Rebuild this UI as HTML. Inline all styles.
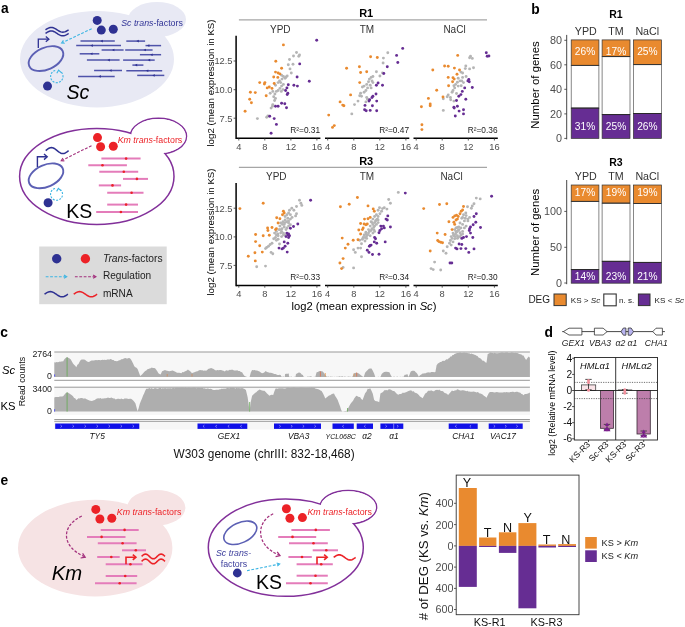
<!DOCTYPE html>
<html><head><meta charset="utf-8"><title>Figure</title>
<style>
html,body{margin:0;padding:0;background:#fff;width:685px;height:627px;overflow:hidden}
svg{display:block;will-change:transform}
text{font-family:"Liberation Sans",sans-serif}
</style></head>
<body>
<svg width="685" height="627" viewBox="0 0 685 627">
<text x="1.0" y="13.4" font-size="13.8" fill="#000" text-anchor="start" font-weight="bold" font-style="normal" >a</text>
<text x="531.2" y="13.6" font-size="13.8" fill="#000" text-anchor="start" font-weight="bold" font-style="normal" >b</text>
<text x="0.3" y="336.7" font-size="13.8" fill="#000" text-anchor="start" font-weight="bold" font-style="normal" >c</text>
<text x="544.4" y="336.8" font-size="13.8" fill="#000" text-anchor="start" font-weight="bold" font-style="normal" >d</text>
<text x="0.6" y="484.5" font-size="13.8" fill="#000" text-anchor="start" font-weight="bold" font-style="normal" >e</text>
<ellipse cx="157" cy="19.5" rx="29" ry="17.5" fill="#E8E9F4"/>
<ellipse cx="97" cy="59.2" rx="77" ry="48.3" fill="#E8E9F4"/>
<ellipse cx="46" cy="58.6" rx="18.3" ry="10.9" transform="rotate(-24 46 58.6)" fill="none" stroke="#5C60B4" stroke-width="1.9"/>
<polyline points="38.3,48 38.3,39.2 48.5,39.2" fill="none" stroke="#2E3192" stroke-width="1.3"/>
<polyline points="45.8,36.6 48.9,39.2 45.8,41.8" fill="none" stroke="#2E3192" stroke-width="1.3"/>
<polyline points="45.50,29.80 46.46,29.18 47.42,28.60 48.39,28.10 49.35,27.72 50.31,27.48 51.27,27.40 52.24,27.48 53.20,27.72 54.16,28.10 55.12,28.60 56.09,29.18 57.05,29.80 58.01,30.42 58.97,31.00 59.94,31.50 60.90,31.88 61.86,32.12 62.82,32.20 63.79,32.12 64.75,31.88 65.71,31.50 66.67,31.00 67.64,30.42 68.60,29.80" fill="none" stroke="#2E3192" stroke-width="1.5"/>
<polyline points="45.50,33.40 46.46,32.78 47.42,32.20 48.39,31.70 49.35,31.32 50.31,31.08 51.27,31.00 52.24,31.08 53.20,31.32 54.16,31.70 55.12,32.20 56.09,32.78 57.05,33.40 58.01,34.02 58.97,34.60 59.94,35.10 60.90,35.48 61.86,35.72 62.82,35.80 63.79,35.72 64.75,35.48 65.71,35.10 66.67,34.60 67.64,34.02 68.60,33.40" fill="none" stroke="#2E3192" stroke-width="1.5"/>
<line x1="91.7" y1="28.7" x2="62.50" y2="42.57" stroke="#3DB5E3" stroke-width="1.1" stroke-dasharray="2.8,1.6"/>
<polyline points="63.42,40.37 61.6,43.0 64.79,43.26" fill="none" stroke="#3DB5E3" stroke-width="1.1"/>
<path d="M55.2,70.5 A6.2,6.2 0 1 0 60.5,71.5" fill="none" stroke="#3DB5E3" stroke-width="1.1" stroke-dasharray="2,1.3"/>
<polyline points="56.8,73.2 58.6,70.2 61.3,72.6" fill="none" stroke="#3DB5E3" stroke-width="1.1"/>
<circle cx="47.5" cy="86.1" r="4.5" fill="#2E3192"/>
<circle cx="97.2" cy="20.4" r="4.5" fill="#2E3192"/>
<circle cx="101.3" cy="30.1" r="4.5" fill="#2E3192"/>
<circle cx="113.3" cy="29.2" r="4.5" fill="#2E3192"/>
<text x="121.2" y="26.4" font-size="8.8" fill="#303396" text-anchor="start" font-weight="normal" font-style="normal" ><tspan font-style="italic">Sc trans</tspan>-factors</text>
<text x="66.5" y="99.2" font-size="19.5" fill="#000" text-anchor="start" font-weight="normal" font-style="italic" >Sc</text>
<line x1="80.5" y1="41.1" x2="114.8" y2="41.1" stroke="#4F53AA" stroke-width="1.5"/>
<path d="M100.4,41.1 L102.8,39.800000000000004 L102.8,42.4 Z" fill="#2E3192"/>
<line x1="126.3" y1="41.1" x2="145.1" y2="41.1" stroke="#4F53AA" stroke-width="1.5"/>
<path d="M136.4,41.1 L138.8,39.800000000000004 L138.8,42.4 Z" fill="#2E3192"/>
<line x1="76.2" y1="45.6" x2="121.0" y2="45.6" stroke="#4F53AA" stroke-width="1.5"/>
<path d="M90.4,45.6 L92.8,44.300000000000004 L92.8,46.9 Z" fill="#2E3192"/>
<line x1="145.5" y1="45.6" x2="161.1" y2="45.6" stroke="#4F53AA" stroke-width="1.5"/>
<path d="M147.0,45.6 L149.4,44.300000000000004 L149.4,46.9 Z" fill="#2E3192"/>
<line x1="101.6" y1="50.0" x2="123.6" y2="50.0" stroke="#4F53AA" stroke-width="1.5"/>
<path d="M112.0,50.0 L114.39999999999999,48.7 L114.39999999999999,51.3 Z" fill="#2E3192"/>
<line x1="125.2" y1="50.0" x2="152.6" y2="50.0" stroke="#4F53AA" stroke-width="1.5"/>
<path d="M143.5,50.0 L145.9,48.7 L145.9,51.3 Z" fill="#2E3192"/>
<line x1="79.7" y1="53.8" x2="99.3" y2="53.8" stroke="#4F53AA" stroke-width="1.5"/>
<path d="M90.10000000000001,53.8 L92.5,52.5 L92.5,55.099999999999994 Z" fill="#2E3192"/>
<line x1="139.9" y1="54.7" x2="161.1" y2="54.7" stroke="#4F53AA" stroke-width="1.5"/>
<path d="M150.20000000000002,54.7 L152.60000000000002,53.400000000000006 L152.60000000000002,56.0 Z" fill="#2E3192"/>
<line x1="86.9" y1="60.1" x2="119.6" y2="60.1" stroke="#4F53AA" stroke-width="1.5"/>
<path d="M107.4,60.1 L109.8,58.800000000000004 L109.8,61.4 Z" fill="#2E3192"/>
<line x1="123.1" y1="60.1" x2="154.7" y2="60.1" stroke="#4F53AA" stroke-width="1.5"/>
<path d="M147.8,60.1 L150.20000000000002,58.800000000000004 L150.20000000000002,61.4 Z" fill="#2E3192"/>
<line x1="132.4" y1="65.1" x2="143.4" y2="65.1" stroke="#4F53AA" stroke-width="1.5"/>
<path d="M134.8,65.1 L137.20000000000002,63.8 L137.20000000000002,66.39999999999999 Z" fill="#2E3192"/>
<line x1="94.1" y1="70.5" x2="122.0" y2="70.5" stroke="#4F53AA" stroke-width="1.5"/>
<path d="M109.2,70.5 L111.6,69.2 L111.6,71.8 Z" fill="#2E3192"/>
<line x1="126.3" y1="70.7" x2="162.2" y2="70.7" stroke="#4F53AA" stroke-width="1.5"/>
<path d="M145.9,70.7 L148.3,69.4 L148.3,72.0 Z" fill="#2E3192"/>
<line x1="78.1" y1="76.4" x2="114.7" y2="76.4" stroke="#4F53AA" stroke-width="1.5"/>
<path d="M98.4,76.4 L100.8,75.10000000000001 L100.8,77.7 Z" fill="#2E3192"/>
<line x1="137.2" y1="75.4" x2="164.3" y2="75.4" stroke="#4F53AA" stroke-width="1.5"/>
<path d="M152.3,75.4 L154.70000000000002,74.10000000000001 L154.70000000000002,76.7 Z" fill="#2E3192"/>
<ellipse cx="158.4" cy="136.2" rx="28.1" ry="17.9" fill="#fff" stroke="#82309A" stroke-width="1.5"/>
<ellipse cx="96.8" cy="176.4" rx="77.2" ry="48" fill="#fff" stroke="#82309A" stroke-width="1.5"/>
<ellipse cx="158.4" cy="136.2" rx="27.35" ry="17.15" fill="#fff"/>
<ellipse cx="46" cy="175.8" rx="18.3" ry="10.9" transform="rotate(-24 46 175.8)" fill="none" stroke="#5C60B4" stroke-width="1.9"/>
<polyline points="37.4,167 37.4,156.8 46.8,156.8" fill="none" stroke="#2E3192" stroke-width="1.4"/>
<polyline points="44.0,154.0 47.2,156.8 44.0,159.6" fill="none" stroke="#2E3192" stroke-width="1.4"/>
<polyline points="45.70,150.60 46.65,149.82 47.61,149.10 48.56,148.48 49.52,148.00 50.47,147.70 51.42,147.60 52.38,147.70 53.33,148.00 54.29,148.48 55.24,149.10 56.20,149.82 57.15,150.60 58.10,151.38 59.06,152.10 60.01,152.72 60.97,153.20 61.92,153.50 62.88,153.60 63.83,153.50 64.78,153.20 65.74,152.72 66.69,152.10 67.65,151.38 68.60,150.60" fill="none" stroke="#2E3192" stroke-width="1.5"/>
<line x1="91.5" y1="145.7" x2="62.10" y2="160.26" stroke="#A3317D" stroke-width="1.1" stroke-dasharray="2.8,1.6"/>
<polyline points="62.97,158.04 61.2,160.7 64.39,160.90" fill="none" stroke="#A3317D" stroke-width="1.1"/>
<path d="M55.0,188.5 A6.0,6.0 0 1 0 60.3,189.6" fill="none" stroke="#3DB5E3" stroke-width="1.1" stroke-dasharray="2,1.3"/>
<polyline points="56.6,191.4 58.4,188.4 61.1,190.8" fill="none" stroke="#3DB5E3" stroke-width="1.1"/>
<circle cx="48.1" cy="202.8" r="4.5" fill="#2E3192"/>
<circle cx="97.5" cy="137.6" r="4.5" fill="#EC2227"/>
<circle cx="100.6" cy="146.8" r="4.5" fill="#EC2227"/>
<circle cx="113.3" cy="146.3" r="4.5" fill="#EC2227"/>
<text x="117.7" y="143.3" font-size="8.8" fill="#EC2227" text-anchor="start" font-weight="normal" font-style="normal" ><tspan font-style="italic">Km trans</tspan>-factors</text>
<text x="66.3" y="217.5" font-size="19.5" fill="#000" text-anchor="start" font-weight="normal" font-style="normal" >KS</text>
<line x1="101.4" y1="158.6" x2="140.6" y2="158.6" stroke="#E47CBA" stroke-width="2.0"/>
<circle cx="126.1" cy="158.6" r="1.3" fill="#EC2227"/>
<line x1="88.3" y1="165.2" x2="126.9" y2="165.2" stroke="#E47CBA" stroke-width="2.0"/>
<circle cx="102.5" cy="165.2" r="1.3" fill="#EC2227"/>
<line x1="99.3" y1="171.8" x2="138.2" y2="171.8" stroke="#E47CBA" stroke-width="2.0"/>
<circle cx="123.8" cy="171.8" r="1.3" fill="#EC2227"/>
<line x1="123.0" y1="178.9" x2="148.0" y2="178.9" stroke="#E47CBA" stroke-width="2.0"/>
<circle cx="136.9" cy="178.9" r="1.3" fill="#EC2227"/>
<line x1="98.8" y1="185.4" x2="121.1" y2="185.4" stroke="#E47CBA" stroke-width="2.0"/>
<circle cx="112.5" cy="185.4" r="1.3" fill="#EC2227"/>
<line x1="107.2" y1="192.8" x2="143.5" y2="192.8" stroke="#E47CBA" stroke-width="2.0"/>
<circle cx="131.6" cy="192.8" r="1.3" fill="#EC2227"/>
<line x1="107.2" y1="204.6" x2="138.0" y2="204.6" stroke="#E47CBA" stroke-width="2.0"/>
<circle cx="126.1" cy="204.6" r="1.3" fill="#EC2227"/>
<line x1="96.2" y1="212.0" x2="138.0" y2="212.0" stroke="#E47CBA" stroke-width="2.0"/>
<circle cx="120.9" cy="212.0" r="1.3" fill="#EC2227"/>
<rect x="39.2" y="246.5" width="127.5" height="57.7" fill="#DBDBDB"/>
<circle cx="56.7" cy="258.7" r="4.7" fill="#2E3192"/>
<circle cx="85.4" cy="258.7" r="4.7" fill="#EC2227"/>
<text x="102.9" y="262.2" font-size="10.25" fill="#222" text-anchor="start" font-weight="normal" font-style="normal" ><tspan font-style="italic">Trans</tspan>-factors</text>
<line x1="45.7" y1="276.7" x2="65.70" y2="276.70" stroke="#3DB5E3" stroke-width="1.1" stroke-dasharray="2.8,1.6"/>
<polyline points="63.93,278.30 66.7,276.7 63.93,275.10" fill="none" stroke="#3DB5E3" stroke-width="1.1"/>
<line x1="74.9" y1="276.7" x2="94.90" y2="276.70" stroke="#A3317D" stroke-width="1.1" stroke-dasharray="2.8,1.6"/>
<polyline points="93.13,278.30 95.9,276.7 93.13,275.10" fill="none" stroke="#A3317D" stroke-width="1.1"/>
<text x="102.9" y="279.4" font-size="10.1" fill="#222" text-anchor="start" font-weight="normal" font-style="normal" >Regulation</text>
<polyline points="44.50,294.20 45.48,293.53 46.45,292.90 47.42,292.36 48.40,291.95 49.38,291.69 50.35,291.60 51.33,291.69 52.30,291.95 53.28,292.36 54.25,292.90 55.23,293.53 56.20,294.20 57.18,294.87 58.15,295.50 59.12,296.04 60.10,296.45 61.08,296.71 62.05,296.80 63.03,296.71 64.00,296.45 64.98,296.04 65.95,295.50 66.93,294.87 67.90,294.20" fill="none" stroke="#2E3192" stroke-width="1.5"/>
<polyline points="73.70,294.20 74.67,293.53 75.65,292.90 76.62,292.36 77.60,291.95 78.58,291.69 79.55,291.60 80.53,291.69 81.50,291.95 82.47,292.36 83.45,292.90 84.42,293.53 85.40,294.20 86.38,294.87 87.35,295.50 88.33,296.04 89.30,296.45 90.28,296.71 91.25,296.80 92.22,296.71 93.20,296.45 94.17,296.04 95.15,295.50 96.12,294.87 97.10,294.20" fill="none" stroke="#EC2227" stroke-width="1.5"/>
<text x="102.9" y="297.4" font-size="10.1" fill="#222" text-anchor="start" font-weight="normal" font-style="normal" >mRNA</text>
<circle cx="296.5" cy="52.5" r="1.45" fill="#B5B5B5"/>
<circle cx="293.5" cy="56.0" r="1.45" fill="#B5B5B5"/>
<circle cx="298.8" cy="56.3" r="1.45" fill="#B5B5B5"/>
<circle cx="299.5" cy="54.9" r="1.45" fill="#B5B5B5"/>
<circle cx="289.5" cy="59.5" r="1.45" fill="#B5B5B5"/>
<circle cx="293.0" cy="64.2" r="1.45" fill="#B5B5B5"/>
<circle cx="288.3" cy="64.7" r="1.45" fill="#B5B5B5"/>
<circle cx="290.0" cy="68.9" r="1.45" fill="#B5B5B5"/>
<circle cx="291.3" cy="73.0" r="1.45" fill="#B5B5B5"/>
<circle cx="281.6" cy="75.3" r="1.45" fill="#B5B5B5"/>
<circle cx="283.4" cy="76.5" r="1.45" fill="#B5B5B5"/>
<circle cx="286.0" cy="77.0" r="1.45" fill="#B5B5B5"/>
<circle cx="287.2" cy="76.0" r="1.45" fill="#B5B5B5"/>
<circle cx="285.1" cy="78.2" r="1.45" fill="#B5B5B5"/>
<circle cx="282.0" cy="79.1" r="1.45" fill="#B5B5B5"/>
<circle cx="279.5" cy="80.9" r="1.45" fill="#B5B5B5"/>
<circle cx="278.1" cy="82.6" r="1.45" fill="#B5B5B5"/>
<circle cx="280.7" cy="82.6" r="1.45" fill="#B5B5B5"/>
<circle cx="283.4" cy="84.4" r="1.45" fill="#B5B5B5"/>
<circle cx="275.5" cy="85.3" r="1.45" fill="#B5B5B5"/>
<circle cx="281.6" cy="86.1" r="1.45" fill="#B5B5B5"/>
<circle cx="279.9" cy="88.4" r="1.45" fill="#B5B5B5"/>
<circle cx="283.0" cy="89.6" r="1.45" fill="#B5B5B5"/>
<circle cx="278.1" cy="90.5" r="1.45" fill="#B5B5B5"/>
<circle cx="281.3" cy="91.4" r="1.45" fill="#B5B5B5"/>
<circle cx="276.4" cy="91.4" r="1.45" fill="#B5B5B5"/>
<circle cx="272.8" cy="91.4" r="1.45" fill="#B5B5B5"/>
<circle cx="270.2" cy="93.2" r="1.45" fill="#B5B5B5"/>
<circle cx="274.9" cy="94.0" r="1.45" fill="#B5B5B5"/>
<circle cx="273.7" cy="96.7" r="1.45" fill="#B5B5B5"/>
<circle cx="275.5" cy="98.4" r="1.45" fill="#B5B5B5"/>
<circle cx="274.6" cy="100.5" r="1.45" fill="#B5B5B5"/>
<circle cx="272.8" cy="104.6" r="1.45" fill="#B5B5B5"/>
<circle cx="272.5" cy="106.3" r="1.45" fill="#B5B5B5"/>
<circle cx="271.1" cy="108.1" r="1.45" fill="#B5B5B5"/>
<circle cx="266.7" cy="117.2" r="1.45" fill="#B5B5B5"/>
<circle cx="267.9" cy="116.0" r="1.45" fill="#B5B5B5"/>
<circle cx="257.4" cy="118.6" r="1.45" fill="#B5B5B5"/>
<circle cx="283.4" cy="44.9" r="1.45" fill="#E98A2F"/>
<circle cx="275.8" cy="61.2" r="1.45" fill="#E98A2F"/>
<circle cx="281.6" cy="68.2" r="1.45" fill="#E98A2F"/>
<circle cx="275.5" cy="72.1" r="1.45" fill="#E98A2F"/>
<circle cx="278.1" cy="73.0" r="1.45" fill="#E98A2F"/>
<circle cx="279.9" cy="73.9" r="1.45" fill="#E98A2F"/>
<circle cx="273.7" cy="77.0" r="1.45" fill="#E98A2F"/>
<circle cx="277.8" cy="77.4" r="1.45" fill="#E98A2F"/>
<circle cx="259.7" cy="82.6" r="1.45" fill="#E98A2F"/>
<circle cx="264.9" cy="82.6" r="1.45" fill="#E98A2F"/>
<circle cx="264.4" cy="84.0" r="1.45" fill="#E98A2F"/>
<circle cx="274.2" cy="83.5" r="1.45" fill="#E98A2F"/>
<circle cx="269.3" cy="87.0" r="1.45" fill="#E98A2F"/>
<circle cx="267.2" cy="87.9" r="1.45" fill="#E98A2F"/>
<circle cx="272.0" cy="88.4" r="1.45" fill="#E98A2F"/>
<circle cx="250.4" cy="92.3" r="1.45" fill="#E98A2F"/>
<circle cx="255.3" cy="92.6" r="1.45" fill="#E98A2F"/>
<circle cx="266.2" cy="95.8" r="1.45" fill="#E98A2F"/>
<circle cx="249.7" cy="99.3" r="1.45" fill="#E98A2F"/>
<circle cx="251.4" cy="102.8" r="1.45" fill="#E98A2F"/>
<circle cx="245.1" cy="111.2" r="1.45" fill="#E98A2F"/>
<circle cx="316.7" cy="40.2" r="1.45" fill="#662D93"/>
<circle cx="299.7" cy="63.9" r="1.45" fill="#662D93"/>
<circle cx="297.1" cy="77.0" r="1.45" fill="#662D93"/>
<circle cx="309.3" cy="81.2" r="1.45" fill="#662D93"/>
<circle cx="293.9" cy="85.3" r="1.45" fill="#662D93"/>
<circle cx="297.4" cy="86.1" r="1.45" fill="#662D93"/>
<circle cx="288.3" cy="84.7" r="1.45" fill="#662D93"/>
<circle cx="286.9" cy="87.9" r="1.45" fill="#662D93"/>
<circle cx="285.6" cy="90.5" r="1.45" fill="#662D93"/>
<circle cx="287.8" cy="93.2" r="1.45" fill="#662D93"/>
<circle cx="287.2" cy="94.6" r="1.45" fill="#662D93"/>
<circle cx="281.6" cy="103.3" r="1.45" fill="#662D93"/>
<circle cx="284.8" cy="103.7" r="1.45" fill="#662D93"/>
<circle cx="286.5" cy="107.7" r="1.45" fill="#662D93"/>
<circle cx="275.5" cy="106.3" r="1.45" fill="#662D93"/>
<circle cx="278.1" cy="106.3" r="1.45" fill="#662D93"/>
<circle cx="269.7" cy="116.3" r="1.45" fill="#662D93"/>
<circle cx="274.2" cy="118.6" r="1.45" fill="#662D93"/>
<circle cx="276.4" cy="124.4" r="1.45" fill="#662D93"/>
<circle cx="271.1" cy="133.2" r="1.45" fill="#662D93"/>
<circle cx="387.8" cy="52.8" r="1.45" fill="#B5B5B5"/>
<circle cx="383.4" cy="58.1" r="1.45" fill="#B5B5B5"/>
<circle cx="383.1" cy="63.0" r="1.45" fill="#B5B5B5"/>
<circle cx="376.4" cy="71.8" r="1.45" fill="#B5B5B5"/>
<circle cx="379.9" cy="76.0" r="1.45" fill="#B5B5B5"/>
<circle cx="382.5" cy="73.0" r="1.45" fill="#B5B5B5"/>
<circle cx="372.9" cy="76.5" r="1.45" fill="#B5B5B5"/>
<circle cx="371.1" cy="77.4" r="1.45" fill="#B5B5B5"/>
<circle cx="369.4" cy="79.1" r="1.45" fill="#B5B5B5"/>
<circle cx="372.0" cy="80.9" r="1.45" fill="#B5B5B5"/>
<circle cx="368.5" cy="81.8" r="1.45" fill="#B5B5B5"/>
<circle cx="372.9" cy="82.6" r="1.45" fill="#B5B5B5"/>
<circle cx="366.7" cy="84.4" r="1.45" fill="#B5B5B5"/>
<circle cx="370.2" cy="85.3" r="1.45" fill="#B5B5B5"/>
<circle cx="364.1" cy="86.1" r="1.45" fill="#B5B5B5"/>
<circle cx="362.4" cy="87.0" r="1.45" fill="#B5B5B5"/>
<circle cx="367.6" cy="87.9" r="1.45" fill="#B5B5B5"/>
<circle cx="371.1" cy="87.9" r="1.45" fill="#B5B5B5"/>
<circle cx="365.9" cy="90.5" r="1.45" fill="#B5B5B5"/>
<circle cx="364.1" cy="92.3" r="1.45" fill="#B5B5B5"/>
<circle cx="360.6" cy="93.2" r="1.45" fill="#B5B5B5"/>
<circle cx="359.7" cy="95.8" r="1.45" fill="#B5B5B5"/>
<circle cx="361.5" cy="96.3" r="1.45" fill="#B5B5B5"/>
<circle cx="366.7" cy="97.5" r="1.45" fill="#B5B5B5"/>
<circle cx="367.6" cy="99.3" r="1.45" fill="#B5B5B5"/>
<circle cx="365.9" cy="101.9" r="1.45" fill="#B5B5B5"/>
<circle cx="358.0" cy="101.1" r="1.45" fill="#B5B5B5"/>
<circle cx="354.5" cy="104.6" r="1.45" fill="#B5B5B5"/>
<circle cx="351.8" cy="113.9" r="1.45" fill="#B5B5B5"/>
<circle cx="370.6" cy="56.7" r="1.45" fill="#E98A2F"/>
<circle cx="377.3" cy="57.5" r="1.45" fill="#E98A2F"/>
<circle cx="346.6" cy="68.2" r="1.45" fill="#E98A2F"/>
<circle cx="359.4" cy="66.8" r="1.45" fill="#E98A2F"/>
<circle cx="360.6" cy="72.5" r="1.45" fill="#E98A2F"/>
<circle cx="366.7" cy="71.8" r="1.45" fill="#E98A2F"/>
<circle cx="359.7" cy="82.6" r="1.45" fill="#E98A2F"/>
<circle cx="350.6" cy="94.9" r="1.45" fill="#E98A2F"/>
<circle cx="340.1" cy="101.9" r="1.45" fill="#E98A2F"/>
<circle cx="342.7" cy="105.1" r="1.45" fill="#E98A2F"/>
<circle cx="343.9" cy="105.8" r="1.45" fill="#E98A2F"/>
<circle cx="328.7" cy="115.1" r="1.45" fill="#E98A2F"/>
<circle cx="334.3" cy="125.6" r="1.45" fill="#E98A2F"/>
<circle cx="332.5" cy="127.4" r="1.45" fill="#E98A2F"/>
<circle cx="402.7" cy="48.4" r="1.45" fill="#662D93"/>
<circle cx="396.6" cy="55.4" r="1.45" fill="#662D93"/>
<circle cx="397.8" cy="62.5" r="1.45" fill="#662D93"/>
<circle cx="387.3" cy="66.8" r="1.45" fill="#662D93"/>
<circle cx="383.8" cy="73.5" r="1.45" fill="#662D93"/>
<circle cx="378.1" cy="83.0" r="1.45" fill="#662D93"/>
<circle cx="376.4" cy="85.3" r="1.45" fill="#662D93"/>
<circle cx="382.5" cy="85.3" r="1.45" fill="#662D93"/>
<circle cx="376.0" cy="94.0" r="1.45" fill="#662D93"/>
<circle cx="372.9" cy="96.3" r="1.45" fill="#662D93"/>
<circle cx="372.0" cy="97.5" r="1.45" fill="#662D93"/>
<circle cx="369.7" cy="99.8" r="1.45" fill="#662D93"/>
<circle cx="369.0" cy="101.1" r="1.45" fill="#662D93"/>
<circle cx="376.7" cy="101.1" r="1.45" fill="#662D93"/>
<circle cx="365.0" cy="105.4" r="1.45" fill="#662D93"/>
<circle cx="372.4" cy="105.8" r="1.45" fill="#662D93"/>
<circle cx="364.6" cy="109.8" r="1.45" fill="#662D93"/>
<circle cx="366.2" cy="110.7" r="1.45" fill="#662D93"/>
<circle cx="370.2" cy="110.4" r="1.45" fill="#662D93"/>
<circle cx="376.7" cy="110.7" r="1.45" fill="#662D93"/>
<circle cx="470.5" cy="56.3" r="1.45" fill="#B5B5B5"/>
<circle cx="472.3" cy="58.4" r="1.45" fill="#B5B5B5"/>
<circle cx="469.6" cy="57.7" r="1.45" fill="#B5B5B5"/>
<circle cx="465.8" cy="66.0" r="1.45" fill="#B5B5B5"/>
<circle cx="465.3" cy="68.6" r="1.45" fill="#B5B5B5"/>
<circle cx="473.5" cy="67.7" r="1.45" fill="#B5B5B5"/>
<circle cx="469.6" cy="68.9" r="1.45" fill="#B5B5B5"/>
<circle cx="460.9" cy="72.1" r="1.45" fill="#B5B5B5"/>
<circle cx="462.6" cy="73.0" r="1.45" fill="#B5B5B5"/>
<circle cx="458.2" cy="78.2" r="1.45" fill="#B5B5B5"/>
<circle cx="462.6" cy="77.4" r="1.45" fill="#B5B5B5"/>
<circle cx="466.1" cy="76.5" r="1.45" fill="#B5B5B5"/>
<circle cx="460.0" cy="80.9" r="1.45" fill="#B5B5B5"/>
<circle cx="461.8" cy="80.9" r="1.45" fill="#B5B5B5"/>
<circle cx="463.5" cy="82.6" r="1.45" fill="#B5B5B5"/>
<circle cx="457.4" cy="82.3" r="1.45" fill="#B5B5B5"/>
<circle cx="455.6" cy="84.4" r="1.45" fill="#B5B5B5"/>
<circle cx="453.9" cy="85.8" r="1.45" fill="#B5B5B5"/>
<circle cx="458.2" cy="86.1" r="1.45" fill="#B5B5B5"/>
<circle cx="461.2" cy="85.8" r="1.45" fill="#B5B5B5"/>
<circle cx="454.7" cy="87.9" r="1.45" fill="#B5B5B5"/>
<circle cx="453.0" cy="90.5" r="1.45" fill="#B5B5B5"/>
<circle cx="452.1" cy="92.3" r="1.45" fill="#B5B5B5"/>
<circle cx="456.5" cy="93.5" r="1.45" fill="#B5B5B5"/>
<circle cx="448.2" cy="94.9" r="1.45" fill="#B5B5B5"/>
<circle cx="447.2" cy="96.7" r="1.45" fill="#B5B5B5"/>
<circle cx="450.4" cy="97.5" r="1.45" fill="#B5B5B5"/>
<circle cx="443.3" cy="98.8" r="1.45" fill="#B5B5B5"/>
<circle cx="450.7" cy="99.8" r="1.45" fill="#B5B5B5"/>
<circle cx="453.9" cy="101.1" r="1.45" fill="#B5B5B5"/>
<circle cx="443.3" cy="110.4" r="1.45" fill="#B5B5B5"/>
<circle cx="457.7" cy="55.4" r="1.45" fill="#E98A2F"/>
<circle cx="444.6" cy="66.0" r="1.45" fill="#E98A2F"/>
<circle cx="448.2" cy="66.3" r="1.45" fill="#E98A2F"/>
<circle cx="432.8" cy="70.0" r="1.45" fill="#E98A2F"/>
<circle cx="454.4" cy="68.1" r="1.45" fill="#E98A2F"/>
<circle cx="459.5" cy="70.0" r="1.45" fill="#E98A2F"/>
<circle cx="457.0" cy="74.2" r="1.45" fill="#E98A2F"/>
<circle cx="448.2" cy="77.4" r="1.45" fill="#E98A2F"/>
<circle cx="453.0" cy="77.7" r="1.45" fill="#E98A2F"/>
<circle cx="454.2" cy="79.1" r="1.45" fill="#E98A2F"/>
<circle cx="452.6" cy="81.8" r="1.45" fill="#E98A2F"/>
<circle cx="448.6" cy="85.8" r="1.45" fill="#E98A2F"/>
<circle cx="436.7" cy="90.2" r="1.45" fill="#E98A2F"/>
<circle cx="443.0" cy="97.0" r="1.45" fill="#E98A2F"/>
<circle cx="428.4" cy="98.4" r="1.45" fill="#E98A2F"/>
<circle cx="430.2" cy="104.0" r="1.45" fill="#E98A2F"/>
<circle cx="430.2" cy="105.8" r="1.45" fill="#E98A2F"/>
<circle cx="421.4" cy="106.8" r="1.45" fill="#E98A2F"/>
<circle cx="421.9" cy="124.7" r="1.45" fill="#E98A2F"/>
<circle cx="421.9" cy="129.6" r="1.45" fill="#E98A2F"/>
<circle cx="486.3" cy="52.8" r="1.45" fill="#662D93"/>
<circle cx="487.2" cy="56.3" r="1.45" fill="#662D93"/>
<circle cx="488.9" cy="56.0" r="1.45" fill="#662D93"/>
<circle cx="468.8" cy="79.5" r="1.45" fill="#662D93"/>
<circle cx="467.9" cy="80.9" r="1.45" fill="#662D93"/>
<circle cx="469.3" cy="81.8" r="1.45" fill="#662D93"/>
<circle cx="464.7" cy="87.9" r="1.45" fill="#662D93"/>
<circle cx="472.3" cy="87.5" r="1.45" fill="#662D93"/>
<circle cx="462.3" cy="91.4" r="1.45" fill="#662D93"/>
<circle cx="460.9" cy="94.6" r="1.45" fill="#662D93"/>
<circle cx="458.8" cy="96.3" r="1.45" fill="#662D93"/>
<circle cx="465.8" cy="99.3" r="1.45" fill="#662D93"/>
<circle cx="456.5" cy="100.5" r="1.45" fill="#662D93"/>
<circle cx="457.4" cy="106.3" r="1.45" fill="#662D93"/>
<circle cx="453.9" cy="107.2" r="1.45" fill="#662D93"/>
<circle cx="454.2" cy="108.1" r="1.45" fill="#662D93"/>
<circle cx="459.1" cy="111.1" r="1.45" fill="#662D93"/>
<circle cx="463.5" cy="109.8" r="1.45" fill="#662D93"/>
<circle cx="463.5" cy="113.9" r="1.45" fill="#662D93"/>
<circle cx="455.3" cy="116.0" r="1.45" fill="#662D93"/>
<circle cx="285.1" cy="222.6" r="1.45" fill="#B5B5B5"/>
<circle cx="288.6" cy="220.9" r="1.45" fill="#B5B5B5"/>
<circle cx="292.1" cy="217.4" r="1.45" fill="#B5B5B5"/>
<circle cx="286.0" cy="229.6" r="1.45" fill="#B5B5B5"/>
<circle cx="281.6" cy="231.4" r="1.45" fill="#B5B5B5"/>
<circle cx="279.9" cy="229.6" r="1.45" fill="#B5B5B5"/>
<circle cx="283.4" cy="234.9" r="1.45" fill="#B5B5B5"/>
<circle cx="278.1" cy="239.3" r="1.45" fill="#B5B5B5"/>
<circle cx="276.4" cy="234.9" r="1.45" fill="#B5B5B5"/>
<circle cx="288.6" cy="226.1" r="1.45" fill="#B5B5B5"/>
<circle cx="290.4" cy="214.7" r="1.45" fill="#B5B5B5"/>
<circle cx="293.9" cy="210.3" r="1.45" fill="#B5B5B5"/>
<circle cx="299.5" cy="200.3" r="1.45" fill="#B5B5B5"/>
<circle cx="300.9" cy="203.3" r="1.45" fill="#B5B5B5"/>
<circle cx="301.8" cy="205.4" r="1.45" fill="#B5B5B5"/>
<circle cx="296.5" cy="206.5" r="1.45" fill="#B5B5B5"/>
<circle cx="291.8" cy="208.2" r="1.45" fill="#B5B5B5"/>
<circle cx="289.5" cy="210.3" r="1.45" fill="#B5B5B5"/>
<circle cx="296.5" cy="213.8" r="1.45" fill="#B5B5B5"/>
<circle cx="295.6" cy="215.9" r="1.45" fill="#B5B5B5"/>
<circle cx="288.6" cy="213.0" r="1.45" fill="#B5B5B5"/>
<circle cx="286.9" cy="214.7" r="1.45" fill="#B5B5B5"/>
<circle cx="285.1" cy="216.5" r="1.45" fill="#B5B5B5"/>
<circle cx="287.8" cy="218.2" r="1.45" fill="#B5B5B5"/>
<circle cx="290.4" cy="219.1" r="1.45" fill="#B5B5B5"/>
<circle cx="285.1" cy="220.0" r="1.45" fill="#B5B5B5"/>
<circle cx="283.0" cy="221.7" r="1.45" fill="#B5B5B5"/>
<circle cx="286.9" cy="221.7" r="1.45" fill="#B5B5B5"/>
<circle cx="280.7" cy="223.0" r="1.45" fill="#B5B5B5"/>
<circle cx="282.5" cy="224.4" r="1.45" fill="#B5B5B5"/>
<circle cx="284.2" cy="224.4" r="1.45" fill="#B5B5B5"/>
<circle cx="288.6" cy="223.0" r="1.45" fill="#B5B5B5"/>
<circle cx="290.4" cy="224.7" r="1.45" fill="#B5B5B5"/>
<circle cx="279.9" cy="226.1" r="1.45" fill="#B5B5B5"/>
<circle cx="284.2" cy="227.0" r="1.45" fill="#B5B5B5"/>
<circle cx="286.9" cy="227.9" r="1.45" fill="#B5B5B5"/>
<circle cx="282.0" cy="228.8" r="1.45" fill="#B5B5B5"/>
<circle cx="279.0" cy="229.6" r="1.45" fill="#B5B5B5"/>
<circle cx="276.4" cy="231.4" r="1.45" fill="#B5B5B5"/>
<circle cx="274.6" cy="233.1" r="1.45" fill="#B5B5B5"/>
<circle cx="277.8" cy="234.0" r="1.45" fill="#B5B5B5"/>
<circle cx="280.7" cy="233.1" r="1.45" fill="#B5B5B5"/>
<circle cx="283.4" cy="233.1" r="1.45" fill="#B5B5B5"/>
<circle cx="285.1" cy="234.9" r="1.45" fill="#B5B5B5"/>
<circle cx="281.6" cy="236.6" r="1.45" fill="#B5B5B5"/>
<circle cx="278.1" cy="235.8" r="1.45" fill="#B5B5B5"/>
<circle cx="275.5" cy="237.5" r="1.45" fill="#B5B5B5"/>
<circle cx="273.7" cy="238.8" r="1.45" fill="#B5B5B5"/>
<circle cx="276.4" cy="240.2" r="1.45" fill="#B5B5B5"/>
<circle cx="279.5" cy="244.0" r="1.45" fill="#B5B5B5"/>
<circle cx="272.0" cy="243.3" r="1.45" fill="#B5B5B5"/>
<circle cx="270.2" cy="244.5" r="1.45" fill="#B5B5B5"/>
<circle cx="268.5" cy="246.3" r="1.45" fill="#B5B5B5"/>
<circle cx="266.7" cy="247.5" r="1.45" fill="#B5B5B5"/>
<circle cx="265.5" cy="248.6" r="1.45" fill="#B5B5B5"/>
<circle cx="271.1" cy="252.4" r="1.45" fill="#B5B5B5"/>
<circle cx="272.8" cy="253.8" r="1.45" fill="#B5B5B5"/>
<circle cx="265.5" cy="266.1" r="1.45" fill="#B5B5B5"/>
<circle cx="256.7" cy="266.8" r="1.45" fill="#B5B5B5"/>
<circle cx="239.9" cy="208.6" r="1.45" fill="#E98A2F"/>
<circle cx="263.2" cy="203.3" r="1.45" fill="#E98A2F"/>
<circle cx="283.4" cy="211.2" r="1.45" fill="#E98A2F"/>
<circle cx="284.2" cy="213.0" r="1.45" fill="#E98A2F"/>
<circle cx="282.5" cy="214.7" r="1.45" fill="#E98A2F"/>
<circle cx="276.7" cy="217.7" r="1.45" fill="#E98A2F"/>
<circle cx="279.9" cy="218.8" r="1.45" fill="#E98A2F"/>
<circle cx="278.1" cy="223.0" r="1.45" fill="#E98A2F"/>
<circle cx="267.6" cy="227.9" r="1.45" fill="#E98A2F"/>
<circle cx="267.9" cy="230.5" r="1.45" fill="#E98A2F"/>
<circle cx="272.0" cy="227.5" r="1.45" fill="#E98A2F"/>
<circle cx="276.4" cy="228.8" r="1.45" fill="#E98A2F"/>
<circle cx="275.5" cy="229.6" r="1.45" fill="#E98A2F"/>
<circle cx="255.6" cy="234.5" r="1.45" fill="#E98A2F"/>
<circle cx="263.2" cy="235.8" r="1.45" fill="#E98A2F"/>
<circle cx="269.3" cy="235.2" r="1.45" fill="#E98A2F"/>
<circle cx="255.6" cy="241.6" r="1.45" fill="#E98A2F"/>
<circle cx="259.7" cy="245.8" r="1.45" fill="#E98A2F"/>
<circle cx="262.3" cy="252.1" r="1.45" fill="#E98A2F"/>
<circle cx="254.9" cy="252.8" r="1.45" fill="#E98A2F"/>
<circle cx="248.3" cy="256.3" r="1.45" fill="#E98A2F"/>
<circle cx="255.3" cy="260.9" r="1.45" fill="#E98A2F"/>
<circle cx="310.6" cy="200.3" r="1.45" fill="#662D93"/>
<circle cx="297.8" cy="224.0" r="1.45" fill="#662D93"/>
<circle cx="293.5" cy="226.5" r="1.45" fill="#662D93"/>
<circle cx="290.4" cy="228.2" r="1.45" fill="#662D93"/>
<circle cx="286.9" cy="233.1" r="1.45" fill="#662D93"/>
<circle cx="288.6" cy="234.0" r="1.45" fill="#662D93"/>
<circle cx="287.8" cy="234.9" r="1.45" fill="#662D93"/>
<circle cx="289.5" cy="235.8" r="1.45" fill="#662D93"/>
<circle cx="286.0" cy="236.6" r="1.45" fill="#662D93"/>
<circle cx="288.6" cy="237.5" r="1.45" fill="#662D93"/>
<circle cx="284.2" cy="241.9" r="1.45" fill="#662D93"/>
<circle cx="287.8" cy="243.3" r="1.45" fill="#662D93"/>
<circle cx="285.1" cy="246.3" r="1.45" fill="#662D93"/>
<circle cx="283.4" cy="248.1" r="1.45" fill="#662D93"/>
<circle cx="282.0" cy="248.9" r="1.45" fill="#662D93"/>
<circle cx="279.0" cy="248.1" r="1.45" fill="#662D93"/>
<circle cx="287.2" cy="252.1" r="1.45" fill="#662D93"/>
<circle cx="372.0" cy="222.6" r="1.45" fill="#B5B5B5"/>
<circle cx="375.5" cy="220.9" r="1.45" fill="#B5B5B5"/>
<circle cx="377.3" cy="219.1" r="1.45" fill="#B5B5B5"/>
<circle cx="373.8" cy="229.6" r="1.45" fill="#B5B5B5"/>
<circle cx="369.4" cy="231.4" r="1.45" fill="#B5B5B5"/>
<circle cx="367.6" cy="234.9" r="1.45" fill="#B5B5B5"/>
<circle cx="365.9" cy="234.0" r="1.45" fill="#B5B5B5"/>
<circle cx="363.2" cy="237.5" r="1.45" fill="#B5B5B5"/>
<circle cx="374.6" cy="226.1" r="1.45" fill="#B5B5B5"/>
<circle cx="378.1" cy="220.0" r="1.45" fill="#B5B5B5"/>
<circle cx="379.9" cy="213.8" r="1.45" fill="#B5B5B5"/>
<circle cx="382.5" cy="208.6" r="1.45" fill="#B5B5B5"/>
<circle cx="384.3" cy="207.7" r="1.45" fill="#B5B5B5"/>
<circle cx="398.3" cy="192.4" r="1.45" fill="#B5B5B5"/>
<circle cx="388.7" cy="199.5" r="1.45" fill="#B5B5B5"/>
<circle cx="390.4" cy="203.3" r="1.45" fill="#B5B5B5"/>
<circle cx="386.9" cy="209.1" r="1.45" fill="#B5B5B5"/>
<circle cx="379.5" cy="207.7" r="1.45" fill="#B5B5B5"/>
<circle cx="378.1" cy="210.3" r="1.45" fill="#B5B5B5"/>
<circle cx="381.6" cy="211.2" r="1.45" fill="#B5B5B5"/>
<circle cx="376.4" cy="214.7" r="1.45" fill="#B5B5B5"/>
<circle cx="374.6" cy="216.5" r="1.45" fill="#B5B5B5"/>
<circle cx="378.1" cy="216.5" r="1.45" fill="#B5B5B5"/>
<circle cx="372.9" cy="219.1" r="1.45" fill="#B5B5B5"/>
<circle cx="376.4" cy="220.0" r="1.45" fill="#B5B5B5"/>
<circle cx="371.1" cy="221.7" r="1.45" fill="#B5B5B5"/>
<circle cx="374.6" cy="222.6" r="1.45" fill="#B5B5B5"/>
<circle cx="372.9" cy="224.4" r="1.45" fill="#B5B5B5"/>
<circle cx="376.4" cy="224.4" r="1.45" fill="#B5B5B5"/>
<circle cx="378.1" cy="222.6" r="1.45" fill="#B5B5B5"/>
<circle cx="370.2" cy="226.1" r="1.45" fill="#B5B5B5"/>
<circle cx="373.8" cy="227.0" r="1.45" fill="#B5B5B5"/>
<circle cx="372.0" cy="228.8" r="1.45" fill="#B5B5B5"/>
<circle cx="368.5" cy="229.6" r="1.45" fill="#B5B5B5"/>
<circle cx="371.1" cy="230.5" r="1.45" fill="#B5B5B5"/>
<circle cx="374.6" cy="231.4" r="1.45" fill="#B5B5B5"/>
<circle cx="365.9" cy="232.3" r="1.45" fill="#B5B5B5"/>
<circle cx="368.5" cy="233.1" r="1.45" fill="#B5B5B5"/>
<circle cx="372.9" cy="233.1" r="1.45" fill="#B5B5B5"/>
<circle cx="364.1" cy="234.9" r="1.45" fill="#B5B5B5"/>
<circle cx="366.7" cy="235.8" r="1.45" fill="#B5B5B5"/>
<circle cx="370.2" cy="235.8" r="1.45" fill="#B5B5B5"/>
<circle cx="365.0" cy="237.5" r="1.45" fill="#B5B5B5"/>
<circle cx="362.4" cy="239.3" r="1.45" fill="#B5B5B5"/>
<circle cx="366.7" cy="238.4" r="1.45" fill="#B5B5B5"/>
<circle cx="359.7" cy="240.2" r="1.45" fill="#B5B5B5"/>
<circle cx="365.0" cy="241.0" r="1.45" fill="#B5B5B5"/>
<circle cx="361.5" cy="243.7" r="1.45" fill="#B5B5B5"/>
<circle cx="358.0" cy="248.1" r="1.45" fill="#B5B5B5"/>
<circle cx="360.6" cy="248.1" r="1.45" fill="#B5B5B5"/>
<circle cx="353.6" cy="249.8" r="1.45" fill="#B5B5B5"/>
<circle cx="355.3" cy="252.4" r="1.45" fill="#B5B5B5"/>
<circle cx="361.5" cy="256.8" r="1.45" fill="#B5B5B5"/>
<circle cx="353.6" cy="267.9" r="1.45" fill="#B5B5B5"/>
<circle cx="343.1" cy="267.4" r="1.45" fill="#B5B5B5"/>
<circle cx="357.4" cy="197.5" r="1.45" fill="#E98A2F"/>
<circle cx="349.2" cy="204.2" r="1.45" fill="#E98A2F"/>
<circle cx="340.4" cy="206.8" r="1.45" fill="#E98A2F"/>
<circle cx="368.0" cy="205.9" r="1.45" fill="#E98A2F"/>
<circle cx="373.2" cy="208.9" r="1.45" fill="#E98A2F"/>
<circle cx="374.3" cy="211.2" r="1.45" fill="#E98A2F"/>
<circle cx="364.5" cy="219.1" r="1.45" fill="#E98A2F"/>
<circle cx="368.0" cy="218.8" r="1.45" fill="#E98A2F"/>
<circle cx="370.2" cy="217.4" r="1.45" fill="#E98A2F"/>
<circle cx="360.6" cy="223.5" r="1.45" fill="#E98A2F"/>
<circle cx="364.1" cy="224.0" r="1.45" fill="#E98A2F"/>
<circle cx="365.9" cy="224.7" r="1.45" fill="#E98A2F"/>
<circle cx="367.3" cy="224.0" r="1.45" fill="#E98A2F"/>
<circle cx="363.2" cy="227.9" r="1.45" fill="#E98A2F"/>
<circle cx="362.4" cy="229.6" r="1.45" fill="#E98A2F"/>
<circle cx="358.8" cy="230.0" r="1.45" fill="#E98A2F"/>
<circle cx="360.6" cy="234.0" r="1.45" fill="#E98A2F"/>
<circle cx="342.2" cy="238.1" r="1.45" fill="#E98A2F"/>
<circle cx="353.2" cy="240.2" r="1.45" fill="#E98A2F"/>
<circle cx="358.0" cy="239.8" r="1.45" fill="#E98A2F"/>
<circle cx="348.0" cy="244.2" r="1.45" fill="#E98A2F"/>
<circle cx="345.3" cy="248.1" r="1.45" fill="#E98A2F"/>
<circle cx="343.1" cy="258.6" r="1.45" fill="#E98A2F"/>
<circle cx="339.9" cy="263.0" r="1.45" fill="#E98A2F"/>
<circle cx="341.6" cy="268.6" r="1.45" fill="#E98A2F"/>
<circle cx="405.3" cy="193.1" r="1.45" fill="#662D93"/>
<circle cx="387.8" cy="215.9" r="1.45" fill="#662D93"/>
<circle cx="386.0" cy="219.1" r="1.45" fill="#662D93"/>
<circle cx="387.3" cy="220.0" r="1.45" fill="#662D93"/>
<circle cx="380.8" cy="226.1" r="1.45" fill="#662D93"/>
<circle cx="383.4" cy="226.1" r="1.45" fill="#662D93"/>
<circle cx="384.3" cy="227.9" r="1.45" fill="#662D93"/>
<circle cx="381.6" cy="228.8" r="1.45" fill="#662D93"/>
<circle cx="379.9" cy="230.5" r="1.45" fill="#662D93"/>
<circle cx="379.0" cy="232.8" r="1.45" fill="#662D93"/>
<circle cx="390.4" cy="227.0" r="1.45" fill="#662D93"/>
<circle cx="374.6" cy="237.5" r="1.45" fill="#662D93"/>
<circle cx="375.5" cy="238.8" r="1.45" fill="#662D93"/>
<circle cx="374.3" cy="241.9" r="1.45" fill="#662D93"/>
<circle cx="376.7" cy="243.3" r="1.45" fill="#662D93"/>
<circle cx="385.2" cy="241.9" r="1.45" fill="#662D93"/>
<circle cx="371.1" cy="245.1" r="1.45" fill="#662D93"/>
<circle cx="369.4" cy="246.3" r="1.45" fill="#662D93"/>
<circle cx="370.2" cy="245.4" r="1.45" fill="#662D93"/>
<circle cx="367.3" cy="250.3" r="1.45" fill="#662D93"/>
<circle cx="369.0" cy="252.4" r="1.45" fill="#662D93"/>
<circle cx="372.5" cy="254.5" r="1.45" fill="#662D93"/>
<circle cx="379.0" cy="254.2" r="1.45" fill="#662D93"/>
<circle cx="456.0" cy="227.9" r="1.45" fill="#B5B5B5"/>
<circle cx="459.1" cy="229.6" r="1.45" fill="#B5B5B5"/>
<circle cx="462.6" cy="231.4" r="1.45" fill="#B5B5B5"/>
<circle cx="455.3" cy="236.6" r="1.45" fill="#B5B5B5"/>
<circle cx="458.2" cy="237.5" r="1.45" fill="#B5B5B5"/>
<circle cx="460.0" cy="236.6" r="1.45" fill="#B5B5B5"/>
<circle cx="462.6" cy="234.0" r="1.45" fill="#B5B5B5"/>
<circle cx="464.4" cy="227.9" r="1.45" fill="#B5B5B5"/>
<circle cx="466.1" cy="226.1" r="1.45" fill="#B5B5B5"/>
<circle cx="467.9" cy="220.9" r="1.45" fill="#B5B5B5"/>
<circle cx="469.6" cy="217.4" r="1.45" fill="#B5B5B5"/>
<circle cx="462.6" cy="217.4" r="1.45" fill="#B5B5B5"/>
<circle cx="465.3" cy="218.2" r="1.45" fill="#B5B5B5"/>
<circle cx="458.8" cy="227.0" r="1.45" fill="#B5B5B5"/>
<circle cx="456.0" cy="231.4" r="1.45" fill="#B5B5B5"/>
<circle cx="453.5" cy="234.9" r="1.45" fill="#B5B5B5"/>
<circle cx="451.2" cy="236.6" r="1.45" fill="#B5B5B5"/>
<circle cx="476.3" cy="198.1" r="1.45" fill="#B5B5B5"/>
<circle cx="480.2" cy="198.9" r="1.45" fill="#B5B5B5"/>
<circle cx="474.0" cy="203.7" r="1.45" fill="#B5B5B5"/>
<circle cx="472.3" cy="205.9" r="1.45" fill="#B5B5B5"/>
<circle cx="471.4" cy="208.2" r="1.45" fill="#B5B5B5"/>
<circle cx="467.5" cy="206.8" r="1.45" fill="#B5B5B5"/>
<circle cx="465.8" cy="213.0" r="1.45" fill="#B5B5B5"/>
<circle cx="463.5" cy="214.7" r="1.45" fill="#B5B5B5"/>
<circle cx="466.1" cy="215.6" r="1.45" fill="#B5B5B5"/>
<circle cx="461.8" cy="218.2" r="1.45" fill="#B5B5B5"/>
<circle cx="467.9" cy="219.1" r="1.45" fill="#B5B5B5"/>
<circle cx="464.4" cy="220.9" r="1.45" fill="#B5B5B5"/>
<circle cx="460.0" cy="223.0" r="1.45" fill="#B5B5B5"/>
<circle cx="462.6" cy="224.4" r="1.45" fill="#B5B5B5"/>
<circle cx="457.4" cy="227.5" r="1.45" fill="#B5B5B5"/>
<circle cx="460.9" cy="227.9" r="1.45" fill="#B5B5B5"/>
<circle cx="454.7" cy="229.6" r="1.45" fill="#B5B5B5"/>
<circle cx="458.2" cy="230.5" r="1.45" fill="#B5B5B5"/>
<circle cx="456.5" cy="232.3" r="1.45" fill="#B5B5B5"/>
<circle cx="460.0" cy="232.8" r="1.45" fill="#B5B5B5"/>
<circle cx="453.0" cy="233.1" r="1.45" fill="#B5B5B5"/>
<circle cx="455.6" cy="234.0" r="1.45" fill="#B5B5B5"/>
<circle cx="453.9" cy="235.8" r="1.45" fill="#B5B5B5"/>
<circle cx="457.4" cy="235.8" r="1.45" fill="#B5B5B5"/>
<circle cx="460.9" cy="234.9" r="1.45" fill="#B5B5B5"/>
<circle cx="452.1" cy="238.4" r="1.45" fill="#B5B5B5"/>
<circle cx="454.7" cy="238.8" r="1.45" fill="#B5B5B5"/>
<circle cx="457.4" cy="238.4" r="1.45" fill="#B5B5B5"/>
<circle cx="450.4" cy="240.5" r="1.45" fill="#B5B5B5"/>
<circle cx="453.0" cy="241.9" r="1.45" fill="#B5B5B5"/>
<circle cx="449.5" cy="243.3" r="1.45" fill="#B5B5B5"/>
<circle cx="451.2" cy="245.1" r="1.45" fill="#B5B5B5"/>
<circle cx="447.2" cy="246.8" r="1.45" fill="#B5B5B5"/>
<circle cx="443.3" cy="251.0" r="1.45" fill="#B5B5B5"/>
<circle cx="446.0" cy="253.3" r="1.45" fill="#B5B5B5"/>
<circle cx="434.6" cy="262.1" r="1.45" fill="#B5B5B5"/>
<circle cx="431.1" cy="268.6" r="1.45" fill="#B5B5B5"/>
<circle cx="433.2" cy="269.6" r="1.45" fill="#B5B5B5"/>
<circle cx="440.7" cy="270.0" r="1.45" fill="#B5B5B5"/>
<circle cx="423.7" cy="208.6" r="1.45" fill="#E98A2F"/>
<circle cx="439.5" cy="204.5" r="1.45" fill="#E98A2F"/>
<circle cx="446.8" cy="203.7" r="1.45" fill="#E98A2F"/>
<circle cx="463.5" cy="206.5" r="1.45" fill="#E98A2F"/>
<circle cx="462.6" cy="210.0" r="1.45" fill="#E98A2F"/>
<circle cx="461.2" cy="211.2" r="1.45" fill="#E98A2F"/>
<circle cx="460.0" cy="213.8" r="1.45" fill="#E98A2F"/>
<circle cx="453.0" cy="217.4" r="1.45" fill="#E98A2F"/>
<circle cx="454.7" cy="215.9" r="1.45" fill="#E98A2F"/>
<circle cx="456.5" cy="215.2" r="1.45" fill="#E98A2F"/>
<circle cx="458.2" cy="216.5" r="1.45" fill="#E98A2F"/>
<circle cx="457.4" cy="219.1" r="1.45" fill="#E98A2F"/>
<circle cx="456.0" cy="220.0" r="1.45" fill="#E98A2F"/>
<circle cx="453.9" cy="222.3" r="1.45" fill="#E98A2F"/>
<circle cx="454.7" cy="224.4" r="1.45" fill="#E98A2F"/>
<circle cx="448.9" cy="221.7" r="1.45" fill="#E98A2F"/>
<circle cx="452.1" cy="229.6" r="1.45" fill="#E98A2F"/>
<circle cx="437.2" cy="233.1" r="1.45" fill="#E98A2F"/>
<circle cx="445.1" cy="234.5" r="1.45" fill="#E98A2F"/>
<circle cx="437.7" cy="240.5" r="1.45" fill="#E98A2F"/>
<circle cx="438.9" cy="241.6" r="1.45" fill="#E98A2F"/>
<circle cx="440.7" cy="242.3" r="1.45" fill="#E98A2F"/>
<circle cx="442.5" cy="242.8" r="1.45" fill="#E98A2F"/>
<circle cx="430.2" cy="251.0" r="1.45" fill="#E98A2F"/>
<circle cx="491.6" cy="196.3" r="1.45" fill="#662D93"/>
<circle cx="476.3" cy="213.8" r="1.45" fill="#662D93"/>
<circle cx="474.0" cy="216.5" r="1.45" fill="#662D93"/>
<circle cx="475.8" cy="222.3" r="1.45" fill="#662D93"/>
<circle cx="473.2" cy="224.7" r="1.45" fill="#662D93"/>
<circle cx="470.5" cy="227.0" r="1.45" fill="#662D93"/>
<circle cx="469.6" cy="228.8" r="1.45" fill="#662D93"/>
<circle cx="469.3" cy="230.5" r="1.45" fill="#662D93"/>
<circle cx="480.5" cy="227.5" r="1.45" fill="#662D93"/>
<circle cx="470.5" cy="233.1" r="1.45" fill="#662D93"/>
<circle cx="466.5" cy="236.6" r="1.45" fill="#662D93"/>
<circle cx="463.5" cy="237.5" r="1.45" fill="#662D93"/>
<circle cx="461.8" cy="238.4" r="1.45" fill="#662D93"/>
<circle cx="472.8" cy="237.5" r="1.45" fill="#662D93"/>
<circle cx="459.1" cy="244.0" r="1.45" fill="#662D93"/>
<circle cx="461.8" cy="244.5" r="1.45" fill="#662D93"/>
<circle cx="455.6" cy="248.1" r="1.45" fill="#662D93"/>
<circle cx="457.0" cy="248.9" r="1.45" fill="#662D93"/>
<circle cx="460.9" cy="248.6" r="1.45" fill="#662D93"/>
<circle cx="465.8" cy="248.6" r="1.45" fill="#662D93"/>
<circle cx="474.0" cy="248.9" r="1.45" fill="#662D93"/>
<circle cx="468.8" cy="252.4" r="1.45" fill="#662D93"/>
<circle cx="450.0" cy="263.0" r="1.45" fill="#662D93"/>
<circle cx="451.8" cy="263.0" r="1.45" fill="#662D93"/>
<line x1="238.9" y1="19.8" x2="487" y2="19.8" stroke="#A6A6A6" stroke-width="1.2"/>
<text x="366.2" y="17.0" font-size="11" fill="#000" text-anchor="middle" font-weight="bold" font-style="normal" >R1</text>
<text x="280.3" y="32.6" font-size="10" fill="#333" text-anchor="middle" font-weight="normal" font-style="normal" >YPD</text>
<text x="367" y="32.6" font-size="10" fill="#333" text-anchor="middle" font-weight="normal" font-style="normal" >TM</text>
<text x="454.5" y="32.6" font-size="10" fill="#333" text-anchor="middle" font-weight="normal" font-style="normal" >NaCl</text>
<line x1="236.1" y1="35.8" x2="236.1" y2="139.1" stroke="#000" stroke-width="1.5"/>
<line x1="233.6" y1="61.0" x2="236" y2="61.0" stroke="#333" stroke-width="0.8"/>
<text x="232.5" y="64.3" font-size="9.3" fill="#4D4D4D" text-anchor="end" font-weight="normal" font-style="normal" >12.5</text>
<line x1="233.6" y1="89.7" x2="236" y2="89.7" stroke="#333" stroke-width="0.8"/>
<text x="232.5" y="93.0" font-size="9.3" fill="#4D4D4D" text-anchor="end" font-weight="normal" font-style="normal" >10.0</text>
<line x1="233.6" y1="118.2" x2="236" y2="118.2" stroke="#333" stroke-width="0.8"/>
<text x="232.5" y="121.5" font-size="9.3" fill="#4D4D4D" text-anchor="end" font-weight="normal" font-style="normal" >7.5</text>
<line x1="236.1" y1="138.2" x2="320.4" y2="138.2" stroke="#000" stroke-width="1.5"/>
<line x1="238.8" y1="138.2" x2="238.8" y2="140.5" stroke="#333" stroke-width="0.8"/>
<text x="238.8" y="149.79999999999998" font-size="9.3" fill="#4D4D4D" text-anchor="middle" font-weight="normal" font-style="normal" >4</text>
<line x1="264.8" y1="138.2" x2="264.8" y2="140.5" stroke="#333" stroke-width="0.8"/>
<text x="264.8" y="149.79999999999998" font-size="9.3" fill="#4D4D4D" text-anchor="middle" font-weight="normal" font-style="normal" >8</text>
<line x1="290.9" y1="138.2" x2="290.9" y2="140.5" stroke="#333" stroke-width="0.8"/>
<text x="290.9" y="149.79999999999998" font-size="9.3" fill="#4D4D4D" text-anchor="middle" font-weight="normal" font-style="normal" >12</text>
<line x1="316.9" y1="138.2" x2="316.9" y2="140.5" stroke="#333" stroke-width="0.8"/>
<text x="316.9" y="149.79999999999998" font-size="9.3" fill="#4D4D4D" text-anchor="middle" font-weight="normal" font-style="normal" >16</text>
<line x1="325.0" y1="138.2" x2="409.3" y2="138.2" stroke="#000" stroke-width="1.5"/>
<line x1="327.7" y1="138.2" x2="327.7" y2="140.5" stroke="#333" stroke-width="0.8"/>
<text x="327.7" y="149.79999999999998" font-size="9.3" fill="#4D4D4D" text-anchor="middle" font-weight="normal" font-style="normal" >4</text>
<line x1="353.8" y1="138.2" x2="353.8" y2="140.5" stroke="#333" stroke-width="0.8"/>
<text x="353.8" y="149.79999999999998" font-size="9.3" fill="#4D4D4D" text-anchor="middle" font-weight="normal" font-style="normal" >8</text>
<line x1="379.8" y1="138.2" x2="379.8" y2="140.5" stroke="#333" stroke-width="0.8"/>
<text x="379.8" y="149.79999999999998" font-size="9.3" fill="#4D4D4D" text-anchor="middle" font-weight="normal" font-style="normal" >12</text>
<line x1="405.9" y1="138.2" x2="405.9" y2="140.5" stroke="#333" stroke-width="0.8"/>
<text x="405.9" y="149.79999999999998" font-size="9.3" fill="#4D4D4D" text-anchor="middle" font-weight="normal" font-style="normal" >16</text>
<line x1="413.5" y1="138.2" x2="497.8" y2="138.2" stroke="#000" stroke-width="1.5"/>
<line x1="416.2" y1="138.2" x2="416.2" y2="140.5" stroke="#333" stroke-width="0.8"/>
<text x="416.2" y="149.79999999999998" font-size="9.3" fill="#4D4D4D" text-anchor="middle" font-weight="normal" font-style="normal" >4</text>
<line x1="442.2" y1="138.2" x2="442.2" y2="140.5" stroke="#333" stroke-width="0.8"/>
<text x="442.2" y="149.79999999999998" font-size="9.3" fill="#4D4D4D" text-anchor="middle" font-weight="normal" font-style="normal" >8</text>
<line x1="468.3" y1="138.2" x2="468.3" y2="140.5" stroke="#333" stroke-width="0.8"/>
<text x="468.3" y="149.79999999999998" font-size="9.3" fill="#4D4D4D" text-anchor="middle" font-weight="normal" font-style="normal" >12</text>
<line x1="494.4" y1="138.2" x2="494.4" y2="140.5" stroke="#333" stroke-width="0.8"/>
<text x="494.4" y="149.79999999999998" font-size="9.3" fill="#4D4D4D" text-anchor="middle" font-weight="normal" font-style="normal" >16</text>
<text x="320.1" y="132.79999999999998" font-size="8.3" fill="#222" text-anchor="end" font-weight="normal" font-style="normal" >R²=0.31</text>
<text x="409.0" y="132.79999999999998" font-size="8.3" fill="#222" text-anchor="end" font-weight="normal" font-style="normal" >R²=0.47</text>
<text x="497.5" y="132.79999999999998" font-size="8.3" fill="#222" text-anchor="end" font-weight="normal" font-style="normal" >R²=0.36</text>
<line x1="238.9" y1="167.4" x2="487" y2="167.4" stroke="#A6A6A6" stroke-width="1.2"/>
<text x="366.2" y="164.6" font-size="11" fill="#000" text-anchor="middle" font-weight="bold" font-style="normal" >R3</text>
<text x="276.3" y="179.6" font-size="10" fill="#333" text-anchor="middle" font-weight="normal" font-style="normal" >YPD</text>
<text x="367" y="179.6" font-size="10" fill="#333" text-anchor="middle" font-weight="normal" font-style="normal" >TM</text>
<text x="451.5" y="179.6" font-size="10" fill="#333" text-anchor="middle" font-weight="normal" font-style="normal" >NaCl</text>
<line x1="236.1" y1="183.0" x2="236.1" y2="286.29999999999995" stroke="#000" stroke-width="1.5"/>
<line x1="233.6" y1="208.2" x2="236" y2="208.2" stroke="#333" stroke-width="0.8"/>
<text x="232.5" y="211.5" font-size="9.3" fill="#4D4D4D" text-anchor="end" font-weight="normal" font-style="normal" >12.5</text>
<line x1="233.6" y1="236.89999999999998" x2="236" y2="236.89999999999998" stroke="#333" stroke-width="0.8"/>
<text x="232.5" y="240.2" font-size="9.3" fill="#4D4D4D" text-anchor="end" font-weight="normal" font-style="normal" >10.0</text>
<line x1="233.6" y1="265.4" x2="236" y2="265.4" stroke="#333" stroke-width="0.8"/>
<text x="232.5" y="268.7" font-size="9.3" fill="#4D4D4D" text-anchor="end" font-weight="normal" font-style="normal" >7.5</text>
<line x1="236.1" y1="285.4" x2="320.4" y2="285.4" stroke="#000" stroke-width="1.5"/>
<line x1="238.8" y1="285.4" x2="238.8" y2="287.7" stroke="#333" stroke-width="0.8"/>
<text x="238.8" y="297.0" font-size="9.3" fill="#4D4D4D" text-anchor="middle" font-weight="normal" font-style="normal" >4</text>
<line x1="264.8" y1="285.4" x2="264.8" y2="287.7" stroke="#333" stroke-width="0.8"/>
<text x="264.8" y="297.0" font-size="9.3" fill="#4D4D4D" text-anchor="middle" font-weight="normal" font-style="normal" >8</text>
<line x1="290.9" y1="285.4" x2="290.9" y2="287.7" stroke="#333" stroke-width="0.8"/>
<text x="290.9" y="297.0" font-size="9.3" fill="#4D4D4D" text-anchor="middle" font-weight="normal" font-style="normal" >12</text>
<line x1="316.9" y1="285.4" x2="316.9" y2="287.7" stroke="#333" stroke-width="0.8"/>
<text x="316.9" y="297.0" font-size="9.3" fill="#4D4D4D" text-anchor="middle" font-weight="normal" font-style="normal" >16</text>
<line x1="325.0" y1="285.4" x2="409.3" y2="285.4" stroke="#000" stroke-width="1.5"/>
<line x1="327.7" y1="285.4" x2="327.7" y2="287.7" stroke="#333" stroke-width="0.8"/>
<text x="327.7" y="297.0" font-size="9.3" fill="#4D4D4D" text-anchor="middle" font-weight="normal" font-style="normal" >4</text>
<line x1="353.8" y1="285.4" x2="353.8" y2="287.7" stroke="#333" stroke-width="0.8"/>
<text x="353.8" y="297.0" font-size="9.3" fill="#4D4D4D" text-anchor="middle" font-weight="normal" font-style="normal" >8</text>
<line x1="379.8" y1="285.4" x2="379.8" y2="287.7" stroke="#333" stroke-width="0.8"/>
<text x="379.8" y="297.0" font-size="9.3" fill="#4D4D4D" text-anchor="middle" font-weight="normal" font-style="normal" >12</text>
<line x1="405.9" y1="285.4" x2="405.9" y2="287.7" stroke="#333" stroke-width="0.8"/>
<text x="405.9" y="297.0" font-size="9.3" fill="#4D4D4D" text-anchor="middle" font-weight="normal" font-style="normal" >16</text>
<line x1="413.5" y1="285.4" x2="497.8" y2="285.4" stroke="#000" stroke-width="1.5"/>
<line x1="416.2" y1="285.4" x2="416.2" y2="287.7" stroke="#333" stroke-width="0.8"/>
<text x="416.2" y="297.0" font-size="9.3" fill="#4D4D4D" text-anchor="middle" font-weight="normal" font-style="normal" >4</text>
<line x1="442.2" y1="285.4" x2="442.2" y2="287.7" stroke="#333" stroke-width="0.8"/>
<text x="442.2" y="297.0" font-size="9.3" fill="#4D4D4D" text-anchor="middle" font-weight="normal" font-style="normal" >8</text>
<line x1="468.3" y1="285.4" x2="468.3" y2="287.7" stroke="#333" stroke-width="0.8"/>
<text x="468.3" y="297.0" font-size="9.3" fill="#4D4D4D" text-anchor="middle" font-weight="normal" font-style="normal" >12</text>
<line x1="494.4" y1="285.4" x2="494.4" y2="287.7" stroke="#333" stroke-width="0.8"/>
<text x="494.4" y="297.0" font-size="9.3" fill="#4D4D4D" text-anchor="middle" font-weight="normal" font-style="normal" >16</text>
<text x="320.1" y="280.0" font-size="8.3" fill="#222" text-anchor="end" font-weight="normal" font-style="normal" >R²=0.33</text>
<text x="409.0" y="280.0" font-size="8.3" fill="#222" text-anchor="end" font-weight="normal" font-style="normal" >R²=0.34</text>
<text x="497.5" y="280.0" font-size="8.3" fill="#222" text-anchor="end" font-weight="normal" font-style="normal" >R²=0.30</text>
<text x="0" y="0" font-size="9.7" fill="#000" text-anchor="middle" font-weight="normal" font-style="normal" transform="translate(213.5 83) rotate(-90)">log2 (mean expression in KS)</text>
<text x="0" y="0" font-size="9.7" fill="#000" text-anchor="middle" font-weight="normal" font-style="normal" transform="translate(213.5 232.0) rotate(-90)">log2 (mean expression in KS)</text>
<text x="364" y="310.0" font-size="11.2" fill="#000" text-anchor="middle" font-weight="normal" font-style="normal" >log2 (mean expression in <tspan font-style="italic">Sc</tspan>)</text>
<text x="616" y="17.5" font-size="10.5" fill="#000" text-anchor="middle" font-weight="bold" font-style="normal" >R1</text>
<text x="585.8" y="34.8" font-size="10.7" fill="#333" text-anchor="middle" font-weight="normal" font-style="normal" >YPD</text>
<text x="616" y="34.8" font-size="10.7" fill="#333" text-anchor="middle" font-weight="normal" font-style="normal" >TM</text>
<text x="647.3" y="34.8" font-size="10.7" fill="#333" text-anchor="middle" font-weight="normal" font-style="normal" >NaCl</text>
<line x1="566.7" y1="34.9" x2="566.7" y2="139.4" stroke="#333" stroke-width="0.9"/>
<line x1="564.3" y1="40.3" x2="566.7" y2="40.3" stroke="#333" stroke-width="0.8"/>
<text x="562" y="44.199999999999996" font-size="10.8" fill="#4D4D4D" text-anchor="end" font-weight="normal" font-style="normal" >80</text>
<line x1="564.3" y1="64.8" x2="566.7" y2="64.8" stroke="#333" stroke-width="0.8"/>
<text x="562" y="68.7" font-size="10.8" fill="#4D4D4D" text-anchor="end" font-weight="normal" font-style="normal" >60</text>
<line x1="564.3" y1="89.3" x2="566.7" y2="89.3" stroke="#333" stroke-width="0.8"/>
<text x="562" y="93.2" font-size="10.8" fill="#4D4D4D" text-anchor="end" font-weight="normal" font-style="normal" >40</text>
<line x1="564.3" y1="113.9" x2="566.7" y2="113.9" stroke="#333" stroke-width="0.8"/>
<text x="562" y="117.80000000000001" font-size="10.8" fill="#4D4D4D" text-anchor="end" font-weight="normal" font-style="normal" >20</text>
<line x1="564.3" y1="138.4" x2="566.7" y2="138.4" stroke="#333" stroke-width="0.8"/>
<text x="562" y="142.3" font-size="10.8" fill="#4D4D4D" text-anchor="end" font-weight="normal" font-style="normal" >0</text>
<rect x="571.2" y="39.9" width="27.699999999999932" height="25.500000000000007" fill="#E98A2F" stroke="#333" stroke-width="0.7"/>
<rect x="571.2" y="65.4" width="27.699999999999932" height="42.69999999999999" fill="#fff" stroke="#555" stroke-width="0.7"/>
<rect x="571.2" y="108.1" width="27.699999999999932" height="30.30000000000001" fill="#662D93" stroke="#333" stroke-width="0.7"/>
<line x1="571.2" y1="65.4" x2="598.9" y2="65.4" stroke="#222" stroke-width="0.8"/>
<line x1="571.2" y1="108.1" x2="598.9" y2="108.1" stroke="#222" stroke-width="0.8"/>
<text x="585.0" y="54.6" font-size="10.2" fill="#fff" text-anchor="middle" font-weight="normal" font-style="normal" >26%</text>
<text x="585.0" y="129.8" font-size="10.2" fill="#fff" text-anchor="middle" font-weight="normal" font-style="normal" >31%</text>
<rect x="602.1" y="39.9" width="27.899999999999977" height="16.700000000000003" fill="#E98A2F" stroke="#333" stroke-width="0.7"/>
<rect x="602.1" y="56.6" width="27.899999999999977" height="57.99999999999999" fill="#fff" stroke="#555" stroke-width="0.7"/>
<rect x="602.1" y="114.6" width="27.899999999999977" height="23.80000000000001" fill="#662D93" stroke="#333" stroke-width="0.7"/>
<line x1="602.1" y1="56.6" x2="630.0" y2="56.6" stroke="#222" stroke-width="0.8"/>
<line x1="602.1" y1="114.6" x2="630.0" y2="114.6" stroke="#222" stroke-width="0.8"/>
<text x="616.0" y="54.6" font-size="10.2" fill="#fff" text-anchor="middle" font-weight="normal" font-style="normal" >17%</text>
<text x="616.0" y="129.8" font-size="10.2" fill="#fff" text-anchor="middle" font-weight="normal" font-style="normal" >25%</text>
<rect x="633.4" y="39.9" width="28.0" height="24.699999999999996" fill="#E98A2F" stroke="#333" stroke-width="0.7"/>
<rect x="633.4" y="64.6" width="28.0" height="48.900000000000006" fill="#fff" stroke="#555" stroke-width="0.7"/>
<rect x="633.4" y="113.5" width="28.0" height="24.900000000000006" fill="#662D93" stroke="#333" stroke-width="0.7"/>
<line x1="633.4" y1="64.6" x2="661.4" y2="64.6" stroke="#222" stroke-width="0.8"/>
<line x1="633.4" y1="113.5" x2="661.4" y2="113.5" stroke="#222" stroke-width="0.8"/>
<text x="647.4" y="54.6" font-size="10.2" fill="#fff" text-anchor="middle" font-weight="normal" font-style="normal" >25%</text>
<text x="647.4" y="129.8" font-size="10.2" fill="#fff" text-anchor="middle" font-weight="normal" font-style="normal" >26%</text>
<text x="616" y="165.8" font-size="10.5" fill="#000" text-anchor="middle" font-weight="bold" font-style="normal" >R3</text>
<text x="585.8" y="180.0" font-size="10.7" fill="#333" text-anchor="middle" font-weight="normal" font-style="normal" >YPD</text>
<text x="616" y="180.0" font-size="10.7" fill="#333" text-anchor="middle" font-weight="normal" font-style="normal" >TM</text>
<text x="647.3" y="180.0" font-size="10.7" fill="#333" text-anchor="middle" font-weight="normal" font-style="normal" >NaCl</text>
<line x1="566.7" y1="180.0" x2="566.7" y2="284.2" stroke="#333" stroke-width="0.9"/>
<line x1="564.3" y1="211.4" x2="566.7" y2="211.4" stroke="#333" stroke-width="0.8"/>
<text x="562" y="215.3" font-size="10.8" fill="#4D4D4D" text-anchor="end" font-weight="normal" font-style="normal" >100</text>
<line x1="564.3" y1="247.3" x2="566.7" y2="247.3" stroke="#333" stroke-width="0.8"/>
<text x="562" y="251.20000000000002" font-size="10.8" fill="#4D4D4D" text-anchor="end" font-weight="normal" font-style="normal" >50</text>
<line x1="564.3" y1="283.0" x2="566.7" y2="283.0" stroke="#333" stroke-width="0.8"/>
<text x="562" y="286.9" font-size="10.8" fill="#4D4D4D" text-anchor="end" font-weight="normal" font-style="normal" >0</text>
<rect x="571.2" y="185.0" width="27.699999999999932" height="16.400000000000006" fill="#E98A2F" stroke="#333" stroke-width="0.7"/>
<rect x="571.2" y="201.4" width="27.699999999999932" height="68.20000000000002" fill="#fff" stroke="#555" stroke-width="0.7"/>
<rect x="571.2" y="269.6" width="27.699999999999932" height="13.599999999999966" fill="#662D93" stroke="#333" stroke-width="0.7"/>
<line x1="571.2" y1="201.4" x2="598.9" y2="201.4" stroke="#222" stroke-width="0.8"/>
<line x1="571.2" y1="269.6" x2="598.9" y2="269.6" stroke="#222" stroke-width="0.8"/>
<text x="585.0" y="195.5" font-size="10.2" fill="#fff" text-anchor="middle" font-weight="normal" font-style="normal" >17%</text>
<text x="585.0" y="279.8" font-size="10.2" fill="#fff" text-anchor="middle" font-weight="normal" font-style="normal" >14%</text>
<rect x="602.1" y="185.0" width="27.899999999999977" height="18.19999999999999" fill="#E98A2F" stroke="#333" stroke-width="0.7"/>
<rect x="602.1" y="203.2" width="27.899999999999977" height="58.10000000000002" fill="#fff" stroke="#555" stroke-width="0.7"/>
<rect x="602.1" y="261.3" width="27.899999999999977" height="21.899999999999977" fill="#662D93" stroke="#333" stroke-width="0.7"/>
<line x1="602.1" y1="203.2" x2="630.0" y2="203.2" stroke="#222" stroke-width="0.8"/>
<line x1="602.1" y1="261.3" x2="630.0" y2="261.3" stroke="#222" stroke-width="0.8"/>
<text x="616.0" y="195.5" font-size="10.2" fill="#fff" text-anchor="middle" font-weight="normal" font-style="normal" >19%</text>
<text x="616.0" y="279.8" font-size="10.2" fill="#fff" text-anchor="middle" font-weight="normal" font-style="normal" >23%</text>
<rect x="633.4" y="185.0" width="28.0" height="18.5" fill="#E98A2F" stroke="#333" stroke-width="0.7"/>
<rect x="633.4" y="203.5" width="28.0" height="58.89999999999998" fill="#fff" stroke="#555" stroke-width="0.7"/>
<rect x="633.4" y="262.4" width="28.0" height="20.80000000000001" fill="#662D93" stroke="#333" stroke-width="0.7"/>
<line x1="633.4" y1="203.5" x2="661.4" y2="203.5" stroke="#222" stroke-width="0.8"/>
<line x1="633.4" y1="262.4" x2="661.4" y2="262.4" stroke="#222" stroke-width="0.8"/>
<text x="647.4" y="195.5" font-size="10.2" fill="#fff" text-anchor="middle" font-weight="normal" font-style="normal" >19%</text>
<text x="647.4" y="279.8" font-size="10.2" fill="#fff" text-anchor="middle" font-weight="normal" font-style="normal" >21%</text>
<text x="0" y="0" font-size="11.4" fill="#000" text-anchor="middle" font-weight="normal" font-style="normal" transform="translate(539.3 85) rotate(-90)">Number of genes</text>
<text x="0" y="0" font-size="11.4" fill="#000" text-anchor="middle" font-weight="normal" font-style="normal" transform="translate(539.3 232.4) rotate(-90)">Number of genes</text>
<text x="528.4" y="302.8" font-size="10" fill="#222" text-anchor="start" font-weight="normal" font-style="normal" >DEG</text>
<rect x="554" y="294" width="12.2" height="11.6" fill="#E98A2F" stroke="#333" stroke-width="1.0"/>
<text x="570.8" y="302.5" font-size="8.1" fill="#222" text-anchor="start" font-weight="normal" font-style="normal" >KS &gt; <tspan font-style="italic">Sc</tspan></text>
<rect x="603.8" y="294" width="12.4" height="11.8" fill="#fff" stroke="#333" stroke-width="1.1"/>
<text x="619" y="302.5" font-size="8.1" fill="#222" text-anchor="start" font-weight="normal" font-style="normal" >n. s.</text>
<rect x="638.4" y="294" width="11.6" height="11.6" fill="#662D93" stroke="#333" stroke-width="1.0"/>
<text x="654.6" y="302.5" font-size="8.1" fill="#222" text-anchor="start" font-weight="normal" font-style="normal" >KS &lt; <tspan font-style="italic">Sc</tspan></text>
<rect x="54.3" y="352.2" width="475.59999999999997" height="25.0" fill="#F7F7F7"/>
<rect x="54.3" y="387.2" width="475.59999999999997" height="27.8" fill="#F7F7F7"/>
<rect x="54.3" y="421.5" width="475.59999999999997" height="8" fill="#F6F6F6"/>
<line x1="54.3" y1="352.0" x2="529.9" y2="352.0" stroke="#8C8C8C" stroke-width="0.9"/>
<line x1="54.3" y1="380.3" x2="529.9" y2="380.3" stroke="#8C8C8C" stroke-width="0.9"/>
<line x1="54.3" y1="387.2" x2="529.9" y2="387.2" stroke="#8C8C8C" stroke-width="0.9"/>
<line x1="54.3" y1="419.5" x2="529.9" y2="419.5" stroke="#8C8C8C" stroke-width="0.9"/>
<line x1="54.3" y1="421.3" x2="529.9" y2="421.3" stroke="#8C8C8C" stroke-width="0.9"/>
<polygon points="54.3,377.0 54.3,362.4 54.4,362.2 55.5,362.5 56.6,361.9 57.7,362.2 58.8,362.0 59.9,361.5 60.9,361.8 62.0,361.2 63.1,361.4 64.2,359.6 65.3,358.2 67.1,357.0 68.6,358.0 69.7,358.5 70.8,359.6 71.9,361.6 73.0,363.5 74.1,364.8 75.2,365.7 76.3,367.3 77.4,364.8 78.5,363.9 79.6,361.8 80.7,360.0 81.7,359.6 82.8,359.4 83.9,359.5 85.0,359.7 86.1,360.7 87.2,361.5 88.3,362.0 89.4,361.8 90.5,361.0 91.6,360.6 92.7,360.4 93.8,360.5 94.9,360.2 96.0,360.1 97.1,360.2 98.2,360.1 99.3,359.9 100.4,360.3 101.5,360.1 102.6,359.7 103.6,359.9 104.7,359.7 105.8,360.0 106.9,359.8 108.0,359.3 109.1,359.8 110.2,359.0 111.3,359.2 112.4,360.0 113.5,360.0 114.6,360.9 115.7,361.0 116.8,361.2 117.9,360.9 119.0,360.3 120.1,360.2 121.2,359.3 122.3,359.2 123.4,358.7 124.4,358.2 125.5,358.1 126.6,358.4 127.7,358.5 128.8,358.1 129.9,358.3 131.0,359.4 132.1,361.6 133.2,363.7 134.3,366.2 135.4,367.2 136.5,367.8 137.6,369.0 139.3,373.6 140.2,375.9 142.0,374.5 143.1,373.2 144.2,372.0 145.2,370.9 146.3,370.4 147.4,369.3 148.5,368.9 149.6,368.4 150.7,368.3 151.8,367.6 152.9,367.9 154.0,368.0 155.1,368.3 156.2,369.7 157.3,371.2 158.4,373.3 159.5,373.9 160.6,374.4 162.1,371.2 163.9,370.6 165.0,370.1 166.0,370.4 167.1,370.8 168.2,371.0 169.3,371.2 170.4,371.1 171.5,370.7 172.6,370.4 173.7,371.1 174.8,371.5 175.9,372.0 177.0,372.8 178.1,372.7 179.2,372.7 180.3,373.0 181.4,373.2 182.5,372.0 183.6,372.2 184.7,371.5 185.8,371.0 186.9,370.4 187.9,369.4 189.0,370.4 190.1,371.1 191.2,372.5 192.3,373.1 193.7,372.5 195.0,372.0 196.2,371.5 197.5,371.2 198.7,370.4 200.0,369.9 201.2,370.2 202.4,370.3 203.7,370.7 204.9,370.6 206.2,370.7 207.4,369.8 208.6,368.8 209.9,368.4 211.1,367.9 212.4,368.5 213.6,368.9 214.9,370.1 216.1,370.4 217.3,370.0 218.6,370.2 219.8,369.9 221.1,370.1 222.3,370.5 223.5,370.7 224.8,371.4 225.8,370.5 226.8,370.2 227.9,370.8 228.9,370.3 229.9,369.7 231.0,369.9 232.0,369.5 233.0,370.1 234.1,370.6 235.1,370.6 236.1,370.6 237.2,370.3 238.4,370.9 239.7,371.1 240.9,372.1 242.1,372.3 243.4,374.4 244.6,375.9 245.9,376.5 247.1,377.0 248.3,377.0 249.6,377.0 250.8,372.6 252.1,370.1 253.3,370.2 254.6,369.9 255.8,370.4 257.0,370.4 258.3,370.9 259.5,371.6 260.8,372.6 262.0,373.3 263.2,372.9 264.5,372.3 265.7,371.0 267.0,371.9 268.2,372.3 269.4,372.7 270.7,372.7 271.9,373.0 273.2,373.5 274.4,374.0 275.4,374.1 276.5,374.6 277.5,374.9 278.5,374.9 279.6,374.7 280.6,374.9 281.8,377.0 283.3,376.4 284.8,376.9 285.1,373.9 286.3,373.8 287.6,373.8 288.8,373.5 289.0,376.5 290.1,377.0 291.2,376.6 292.3,377.0 293.3,377.0 294.4,376.7 295.5,376.7 296.0,373.9 297.1,373.5 298.1,372.7 299.2,372.5 300.5,373.1 301.7,374.5 302.9,375.1 303.4,376.4 304.5,377.0 305.6,377.0 306.7,376.9 307.8,376.6 308.9,376.8 309.9,376.4 311.0,376.3 312.1,377.0 313.2,376.9 314.3,376.8 315.3,377.0 316.6,372.2 317.8,372.0 319.1,371.3 320.3,371.0 321.6,371.3 322.8,371.6 324.0,373.1 325.3,374.9 326.5,376.5 327.5,376.7 328.5,376.4 329.5,377.0 330.5,376.6 331.5,376.7 332.5,376.8 333.5,377.0 334.5,376.7 335.5,377.0 336.5,376.8 337.5,376.8 338.5,376.8 339.5,376.3 340.5,376.7 341.5,376.5 342.5,376.3 343.5,377.0 344.6,376.5 345.6,376.7 346.6,377.0 347.6,376.8 348.6,376.6 349.6,376.8 350.6,376.8 351.6,377.0 352.6,376.4 353.8,373.6 355.0,373.1 356.3,372.8 357.5,373.0 358.8,373.6 360.0,374.4 361.3,375.5 362.6,376.5 363.8,376.9 365.1,372.7 366.4,371.2 367.7,369.9 368.9,368.7 370.2,368.5 371.5,368.5 372.8,370.8 374.1,373.5 375.3,377.0 376.4,377.0 377.4,377.0 378.4,376.7 379.4,377.0 380.4,377.0 381.7,373.9 383.0,372.7 384.3,372.1 385.5,371.8 386.8,371.7 388.1,372.1 389.4,372.2 390.7,374.9 391.9,377.0 393.0,377.0 394.0,376.6 395.1,377.0 396.1,377.0 397.2,376.6 398.2,377.0 399.3,377.0 400.3,376.7 401.3,377.0 402.4,376.8 403.4,376.9 404.7,374.8 406.0,374.7 407.3,374.1 408.5,376.9 409.6,374.4 410.6,371.7 411.6,371.1 412.6,370.8 413.7,370.7 414.7,371.0 415.7,372.3 416.7,373.1 417.7,374.6 418.8,376.8 420.0,375.3 421.3,374.5 422.6,373.4 423.9,373.5 424.9,373.3 425.9,373.3 426.9,372.4 428.0,372.5 429.0,372.2 430.0,372.7 431.1,372.1 432.2,371.9 433.2,372.0 434.3,372.3 435.4,372.1 436.6,365.2 437.9,363.6 439.2,362.8 440.2,362.1 441.2,361.9 442.3,361.1 443.3,360.7 444.3,361.0 445.3,360.2 446.4,359.2 447.4,359.4 448.4,358.5 449.4,358.0 450.4,356.6 451.5,356.6 452.5,355.1 453.5,355.0 454.5,353.9 455.8,353.4 457.1,353.1 458.4,353.0 459.5,352.5 460.6,352.5 461.7,352.9 462.8,352.7 464.0,352.6 465.1,352.7 466.2,352.7 467.3,352.9 468.3,353.2 469.4,353.3 470.4,353.9 471.4,353.6 472.4,353.9 473.4,354.2 474.5,354.8 475.5,355.0 476.5,355.8 477.5,356.1 478.5,357.5 479.6,358.1 480.6,358.5 481.6,359.5 482.6,360.7 483.9,360.8 485.2,362.3 486.5,362.8 487.7,353.9 489.0,353.6 490.3,352.6 491.4,352.7 492.5,353.0 493.6,353.3 494.7,352.8 495.8,353.3 496.9,353.3 498.0,353.3 499.0,353.0 500.0,352.9 501.0,352.6 502.1,352.6 503.1,352.5 504.1,353.1 505.1,352.6 506.1,352.5 507.2,352.3 508.2,353.0 509.2,353.0 510.2,352.9 511.3,352.6 512.3,352.6 513.3,352.7 514.3,352.9 515.3,352.7 516.4,353.0 517.4,352.9 518.4,353.6 519.4,354.1 520.4,354.2 521.5,354.5 522.5,355.6 523.5,355.6 524.8,357.9 526.1,359.9 527.3,358.3 528.6,356.5 529.9,357.8 529.9,377.0" fill="#AEAEAE"/>
<polygon points="54.3,411.6 54.3,397.3 54.4,397.6 55.5,397.0 56.6,397.1 57.7,396.9 58.8,397.0 59.9,396.5 60.9,396.4 62.0,396.4 63.1,396.2 64.2,395.1 65.3,393.6 67.1,392.3 68.6,392.9 69.7,393.7 70.8,394.6 71.9,395.3 73.0,396.3 74.1,398.0 75.2,398.3 76.3,399.9 77.4,399.3 78.5,398.2 79.6,398.4 80.7,397.9 81.7,397.9 82.8,398.3 83.9,398.7 85.0,398.3 86.1,399.0 87.2,399.4 88.3,400.0 89.4,400.4 90.5,400.8 91.6,400.9 92.7,400.8 93.8,400.3 94.9,399.9 96.0,399.1 97.1,398.6 98.2,398.3 99.3,398.4 100.4,398.1 101.5,398.7 102.6,398.4 103.6,398.4 104.7,398.3 105.8,398.2 106.9,398.0 108.0,397.4 109.1,398.0 110.2,397.9 111.3,397.6 112.4,398.0 113.5,398.6 114.6,398.5 115.7,399.5 116.8,399.0 117.9,398.8 119.0,398.8 120.1,399.2 121.2,398.6 122.3,399.0 123.4,399.2 124.4,398.6 125.5,398.5 126.6,398.6 127.7,398.8 128.8,398.9 129.9,398.8 131.0,398.8 132.1,399.4 133.2,400.5 134.3,401.7 135.4,403.2 137.1,409.4 137.6,411.2 138.7,408.1 139.8,403.7 140.9,401.0 142.0,398.4 143.1,395.5 144.2,393.3 145.2,390.8 146.3,388.8 147.4,388.7 148.5,388.5 149.6,388.1 150.7,388.7 151.7,388.1 152.7,388.8 153.8,388.7 154.8,387.9 155.8,388.3 156.8,388.6 157.8,388.8 158.8,388.3 159.8,388.1 160.8,388.1 161.8,388.8 162.8,388.1 163.9,388.4 164.9,388.0 165.9,388.3 167.0,388.6 168.0,387.9 169.0,388.4 170.0,388.1 171.1,388.4 172.1,388.2 173.1,387.8 174.2,388.3 175.2,387.9 176.2,387.5 177.3,387.4 178.3,387.8 179.3,387.7 180.3,387.6 181.4,387.4 182.4,387.6 183.5,387.5 184.5,388.0 185.6,387.2 186.6,387.9 187.7,388.0 188.7,387.3 189.8,388.1 190.8,387.9 191.9,388.0 192.9,387.5 194.0,387.6 195.0,387.6 196.1,388.2 197.2,387.9 198.3,387.8 199.4,387.9 200.5,387.9 201.6,387.8 202.7,387.9 203.8,388.6 204.9,388.2 206.0,389.0 207.1,388.5 208.2,388.6 209.3,389.0 210.4,388.8 211.5,389.1 212.6,389.8 213.7,389.9 214.9,389.9 216.1,389.7 217.3,389.8 218.6,389.7 219.8,389.2 220.8,389.2 221.9,388.5 222.9,389.0 223.9,388.6 225.0,388.8 226.0,388.6 227.1,388.1 228.1,387.8 229.1,388.4 230.2,387.6 231.2,387.8 232.2,387.5 233.3,387.6 234.4,388.1 235.5,388.4 236.6,387.8 237.7,388.2 238.8,388.0 239.9,388.3 241.0,388.2 242.1,388.1 243.4,388.5 244.6,389.0 245.9,390.0 247.6,397.1 248.3,401.8 249.6,411.6 250.6,402.5 252.1,395.8 253.1,394.7 254.2,393.8 255.3,392.8 256.3,392.2 257.4,391.1 258.5,390.3 259.5,389.4 260.8,390.0 262.0,390.6 263.2,390.8 264.5,390.8 265.7,392.1 267.0,393.4 268.2,394.5 269.4,395.7 270.7,395.1 271.9,394.8 273.2,395.0 274.4,391.2 275.6,388.4 276.7,388.5 277.7,388.8 278.7,388.2 279.8,388.2 280.8,388.2 281.8,388.3 282.9,388.3 284.0,388.6 285.0,388.4 286.1,388.3 287.2,387.5 288.2,387.4 289.3,387.9 290.4,388.0 291.4,387.7 292.5,387.8 293.5,387.2 294.6,387.6 295.7,388.1 296.7,388.0 297.8,388.0 298.9,388.1 299.9,387.5 301.0,387.3 302.1,387.4 303.1,387.7 304.2,387.8 305.3,388.1 306.4,387.9 307.5,387.8 308.6,387.9 309.7,387.6 310.8,387.7 311.9,387.3 313.0,387.9 314.1,387.4 315.2,388.5 316.2,388.7 317.3,388.9 318.4,389.2 319.4,389.8 320.5,390.6 321.6,391.1 322.8,393.0 324.0,395.5 325.3,398.4 326.5,397.6 327.8,396.6 329.0,395.6 330.2,395.3 331.5,394.2 332.7,393.8 334.0,393.4 335.2,395.9 336.4,397.7 337.7,399.9 338.9,403.3 340.2,406.8 341.4,410.5 342.6,411.4 343.9,411.3 345.1,411.1 346.4,411.1 347.6,409.2 348.8,407.0 350.1,404.5 351.1,402.9 352.2,401.8 353.2,400.6 354.2,398.5 355.3,396.9 356.3,395.7 357.5,396.3 358.8,397.0 360.0,397.1 361.3,398.9 362.6,400.1 363.8,396.7 365.1,393.3 366.4,391.7 367.7,388.8 368.9,389.0 370.2,388.2 371.5,390.7 372.8,393.8 374.1,399.7 375.3,401.0 376.6,401.2 377.9,401.6 379.2,402.2 380.4,393.5 381.7,392.7 383.0,391.9 384.3,390.2 385.3,390.2 386.3,389.9 387.3,390.4 388.4,389.5 389.4,389.3 390.4,389.6 391.4,390.1 392.4,390.8 393.5,391.1 394.5,391.2 395.8,392.7 397.0,393.9 398.3,394.7 399.6,393.9 400.9,393.9 401.9,393.5 402.9,392.6 403.9,392.9 405.0,392.4 406.0,392.2 407.0,391.8 408.0,391.3 409.1,390.7 410.1,390.6 411.1,390.3 412.4,391.5 413.7,391.3 414.9,392.7 416.2,392.9 417.5,393.8 418.8,395.1 420.0,396.4 421.3,397.3 422.6,398.2 423.9,396.1 425.2,393.4 426.4,392.9 427.7,391.2 429.0,390.4 430.0,390.9 431.0,390.3 432.0,390.7 433.1,391.2 434.1,391.2 435.1,390.3 436.1,390.1 437.2,389.8 438.2,390.3 439.2,389.5 440.2,390.4 441.2,391.1 442.3,391.1 443.3,391.6 444.3,392.7 445.6,393.2 446.9,393.8 448.1,395.0 449.4,393.4 450.7,392.1 452.0,390.5 453.0,391.0 454.0,390.9 455.0,390.3 456.1,390.4 457.1,389.3 458.1,389.6 459.1,389.9 460.2,390.5 461.2,390.6 462.2,390.2 463.2,390.3 464.2,390.5 465.3,390.7 466.3,391.2 467.3,390.7 468.3,391.4 469.4,391.5 470.4,391.7 471.4,391.7 472.4,391.7 473.4,391.6 474.5,391.7 475.5,391.9 476.5,392.4 477.5,391.9 478.5,392.5 479.6,393.5 480.6,393.6 481.6,393.9 482.6,394.4 483.9,395.7 485.2,396.4 486.5,397.8 487.7,395.2 489.0,392.7 490.1,392.1 491.3,391.9 492.4,391.9 493.5,392.3 494.6,392.5 495.7,392.2 496.8,392.0 498.0,392.2 499.0,392.4 500.0,392.4 501.0,392.5 502.1,392.6 503.1,392.4 504.1,391.9 505.1,392.6 506.1,392.1 507.2,392.3 508.2,392.2 509.2,392.4 510.2,391.9 511.3,391.9 512.3,391.8 513.3,391.7 514.3,392.3 515.3,392.0 516.4,391.7 517.4,391.7 518.4,392.2 519.4,392.4 520.4,392.7 521.5,393.9 522.5,394.3 523.5,395.3 524.8,394.0 526.1,393.9 527.3,393.8 528.6,393.2 529.9,392.6 529.9,411.6" fill="#AEAEAE"/>
<line x1="67.1" y1="357.5" x2="67.1" y2="376.6" stroke="#6CAA5C" stroke-width="0.9"/>
<line x1="67.1" y1="392.5" x2="67.1" y2="411.6" stroke="#6CAA5C" stroke-width="0.9"/>
<line x1="54.6" y1="374.4" x2="54.6" y2="376.6" stroke="#5050F0" stroke-width="0.9"/>
<line x1="54.6" y1="409.2" x2="54.6" y2="411.6" stroke="#5050F0" stroke-width="0.9"/>
<line x1="167.2" y1="374.0" x2="167.2" y2="376.6" stroke="#D08A5A" stroke-width="0.8"/>
<line x1="192.0" y1="374.0" x2="192.0" y2="376.6" stroke="#D08A5A" stroke-width="0.8"/>
<line x1="320.4" y1="371.5" x2="320.4" y2="376.6" stroke="#E0704A" stroke-width="0.8"/>
<line x1="325.3" y1="373.0" x2="325.3" y2="376.6" stroke="#E89A50" stroke-width="0.8"/>
<line x1="354.1" y1="373.5" x2="354.1" y2="376.6" stroke="#E89A50" stroke-width="0.8"/>
<line x1="356.7" y1="372.5" x2="356.7" y2="376.6" stroke="#E0704A" stroke-width="0.8"/>
<line x1="249.6" y1="402" x2="249.6" y2="411.6" stroke="#6CAA5C" stroke-width="0.8"/>
<line x1="347.5" y1="408" x2="347.5" y2="411.6" stroke="#6CAA5C" stroke-width="0.8"/>
<text x="52" y="357.4" font-size="8.8" fill="#222" text-anchor="end" font-weight="normal" font-style="normal" >2764</text>
<text x="52" y="378.8" font-size="8.8" fill="#222" text-anchor="end" font-weight="normal" font-style="normal" >0</text>
<text x="52" y="392.4" font-size="8.8" fill="#222" text-anchor="end" font-weight="normal" font-style="normal" >3400</text>
<text x="52" y="414.2" font-size="8.8" fill="#222" text-anchor="end" font-weight="normal" font-style="normal" >0</text>
<text x="2.0" y="373.9" font-size="11.3" fill="#000" text-anchor="start" font-weight="normal" font-style="italic" >Sc</text>
<text x="0.6" y="410.3" font-size="11.2" fill="#000" text-anchor="start" font-weight="normal" font-style="normal" >KS</text>
<text x="0" y="0" font-size="8.8" fill="#111" text-anchor="middle" font-weight="normal" font-style="normal" transform="translate(25.1 381.6) rotate(-90)">Read counts</text>
<rect x="55.2" y="423.5" width="84.1" height="5.4" fill="#1010E8"/>
<polyline points="60.5,425.1 61.9,426.3 60.5,427.5" fill="none" stroke="#B8B8FF" stroke-width="0.6"/>
<polyline points="72.5,425.1 73.9,426.3 72.5,427.5" fill="none" stroke="#B8B8FF" stroke-width="0.6"/>
<polyline points="84.5,425.1 85.9,426.3 84.5,427.5" fill="none" stroke="#B8B8FF" stroke-width="0.6"/>
<polyline points="96.5,425.1 98.0,426.3 96.5,427.5" fill="none" stroke="#B8B8FF" stroke-width="0.6"/>
<polyline points="108.6,425.1 110.0,426.3 108.6,427.5" fill="none" stroke="#B8B8FF" stroke-width="0.6"/>
<polyline points="120.6,425.1 122.0,426.3 120.6,427.5" fill="none" stroke="#B8B8FF" stroke-width="0.6"/>
<polyline points="132.6,425.1 134.0,426.3 132.6,427.5" fill="none" stroke="#B8B8FF" stroke-width="0.6"/>
<rect x="197.5" y="423.5" width="49.8" height="5.4" fill="#1010E8"/>
<polyline points="204.4,425.1 203.0,426.3 204.4,427.5" fill="none" stroke="#B8B8FF" stroke-width="0.6"/>
<polyline points="216.9,425.1 215.5,426.3 216.9,427.5" fill="none" stroke="#B8B8FF" stroke-width="0.6"/>
<polyline points="229.3,425.1 227.9,426.3 229.3,427.5" fill="none" stroke="#B8B8FF" stroke-width="0.6"/>
<polyline points="241.8,425.1 240.4,426.3 241.8,427.5" fill="none" stroke="#B8B8FF" stroke-width="0.6"/>
<rect x="274.0" y="423.5" width="47.0" height="5.4" fill="#1010E8"/>
<polyline points="279.2,425.1 280.6,426.3 279.2,427.5" fill="none" stroke="#B8B8FF" stroke-width="0.6"/>
<polyline points="290.9,425.1 292.3,426.3 290.9,427.5" fill="none" stroke="#B8B8FF" stroke-width="0.6"/>
<polyline points="302.7,425.1 304.1,426.3 302.7,427.5" fill="none" stroke="#B8B8FF" stroke-width="0.6"/>
<polyline points="314.4,425.1 315.8,426.3 314.4,427.5" fill="none" stroke="#B8B8FF" stroke-width="0.6"/>
<rect x="332.5" y="423.5" width="21.3" height="5.4" fill="#1010E8"/>
<polyline points="343.8,425.1 342.4,426.3 343.8,427.5" fill="none" stroke="#B8B8FF" stroke-width="0.6"/>
<rect x="356.7" y="423.5" width="16.3" height="5.4" fill="#1010E8"/>
<polyline points="365.6,425.1 364.2,426.3 365.6,427.5" fill="none" stroke="#B8B8FF" stroke-width="0.6"/>
<rect x="380.4" y="423.5" width="22.9" height="5.4" fill="#1010E8"/>
<polyline points="385.4,425.1 386.8,426.3 385.4,427.5" fill="none" stroke="#B8B8FF" stroke-width="0.6"/>
<polyline points="396.9,425.1 398.3,426.3 396.9,427.5" fill="none" stroke="#B8B8FF" stroke-width="0.6"/>
<rect x="448.7" y="423.5" width="29.0" height="5.4" fill="#1010E8"/>
<polyline points="456.6,425.1 455.2,426.3 456.6,427.5" fill="none" stroke="#B8B8FF" stroke-width="0.6"/>
<polyline points="471.1,425.1 469.8,426.3 471.1,427.5" fill="none" stroke="#B8B8FF" stroke-width="0.6"/>
<rect x="488.7" y="423.5" width="34.0" height="5.4" fill="#1010E8"/>
<polyline points="493.7,425.1 495.1,426.3 493.7,427.5" fill="none" stroke="#B8B8FF" stroke-width="0.6"/>
<polyline points="505.0,425.1 506.4,426.3 505.0,427.5" fill="none" stroke="#B8B8FF" stroke-width="0.6"/>
<polyline points="516.3,425.1 517.7,426.3 516.3,427.5" fill="none" stroke="#B8B8FF" stroke-width="0.6"/>
<text x="97.2" y="438.8" font-size="8.4" fill="#111" text-anchor="middle" font-weight="normal" font-style="italic" >TY5</text>
<text x="229.0" y="438.8" font-size="8.4" fill="#111" text-anchor="middle" font-weight="normal" font-style="italic" >GEX1</text>
<text x="298.6" y="438.8" font-size="8.4" fill="#111" text-anchor="middle" font-weight="normal" font-style="italic" >VBA3</text>
<text x="340.7" y="438.5" font-size="7.0" fill="#111" text-anchor="middle" font-weight="normal" font-style="italic" >YCL068C</text>
<text x="366.9" y="438.8" font-size="8.4" fill="#111" text-anchor="middle" font-weight="normal" font-style="italic" >α2</text>
<text x="393.9" y="438.8" font-size="8.4" fill="#111" text-anchor="middle" font-weight="normal" font-style="italic" >α1</text>
<text x="463.4" y="438.8" font-size="8.4" fill="#111" text-anchor="middle" font-weight="normal" font-style="italic" >CHA1</text>
<text x="503.0" y="438.8" font-size="8.4" fill="#111" text-anchor="middle" font-weight="normal" font-style="italic" >VAC17</text>
<line x1="393.7" y1="423.5" x2="393.7" y2="429.1" stroke="#C8C8FF" stroke-width="0.6"/>
<text x="173.6" y="458.0" font-size="11.85" fill="#111" text-anchor="start" font-weight="normal" font-style="normal" >W303 genome (chrIII: 832-18,468)</text>
<line x1="562.2" y1="331.6" x2="664.9" y2="331.6" stroke="#333" stroke-width="0.9"/>
<path d="M563.4,331.6 L569.0,328.2 L581.9,328.2 L581.9,335.0 L569.0,335.0 Z" fill="#fff" stroke="#333" stroke-width="0.8"/>
<path d="M594.4,328.2 L603.1,328.2 L607.1,331.6 L603.1,335.0 L594.4,335.0 Z" fill="#fff" stroke="#333" stroke-width="0.8"/>
<path d="M621.0,331.6 L623.4,328.0 L625.9,328.0 L625.9,335.2 L623.4,335.2 Z" fill="#B8B4F0" stroke="#333" stroke-width="0.8"/>
<path d="M628.2,328.0 L631.1,328.0 L633.5,331.6 L631.1,335.2 L628.2,335.2 Z" fill="#B8B4F0" stroke="#333" stroke-width="0.8"/>
<path d="M652.8,331.6 L656.0,328.2 L662.4,328.2 L662.4,335.0 L656.0,335.0 Z" fill="#fff" stroke="#333" stroke-width="0.8"/>
<text x="561.8" y="345.8" font-size="8.6" fill="#222" text-anchor="start" font-weight="normal" font-style="italic" >GEX1</text>
<text x="589.0" y="345.8" font-size="8.6" fill="#222" text-anchor="start" font-weight="normal" font-style="italic" >VBA3</text>
<text x="615.6" y="345.8" font-size="8.6" fill="#222" text-anchor="start" font-weight="normal" font-style="italic" >α2</text>
<text x="627.6" y="345.8" font-size="8.6" fill="#222" text-anchor="start" font-weight="normal" font-style="italic" >α1</text>
<text x="644.8" y="345.8" font-size="8.6" fill="#222" text-anchor="start" font-weight="normal" font-style="italic" >CHA1</text>
<rect x="574.3" y="357.5" width="83.20000000000005" height="82.5" fill="#fff" stroke="#222" stroke-width="0.9"/>
<line x1="615.7" y1="357.5" x2="615.7" y2="440.0" stroke="#222" stroke-width="0.9"/>
<rect x="581.4" y="384.9" width="14.3" height="5.6" fill="#FAE4E8" stroke="#444" stroke-width="0.8"/>
<rect x="600.6" y="390.5" width="12.9" height="37.8" fill="#BD7EAB" stroke="#3A2A36" stroke-width="0.8"/>
<rect x="618.2" y="389.7" width="13.7" height="0.8" fill="#F8DDE3" stroke="#777" stroke-width="0.6"/>
<rect x="637.0" y="390.5" width="13.3" height="43.5" fill="#BD7EAB" stroke="#3A2A36" stroke-width="0.8"/>
<line x1="574.3" y1="382.4" x2="657.5" y2="382.4" stroke="#333" stroke-width="0.7" stroke-dasharray="1.2,1.2"/>
<line x1="574.3" y1="398.6" x2="657.5" y2="398.6" stroke="#333" stroke-width="0.7" stroke-dasharray="1.2,1.2"/>
<line x1="574.3" y1="390.5" x2="657.5" y2="390.5" stroke="#222" stroke-width="0.9"/>
<line x1="588.5" y1="389.8" x2="588.5" y2="379.4" stroke="#222" stroke-width="0.8"/>
<line x1="585.3" y1="379.4" x2="591.7" y2="379.4" stroke="#222" stroke-width="0.8"/>
<line x1="585.3" y1="389.8" x2="591.7" y2="389.8" stroke="#222" stroke-width="0.8"/>
<circle cx="588.5" cy="380.4" r="1.5" fill="#F2909C"/>
<circle cx="588.5" cy="382.6" r="1.5" fill="#F2909C"/>
<circle cx="588.5" cy="390.3" r="1.5" fill="#F2909C"/>
<line x1="607.0" y1="429.6" x2="607.0" y2="424.4" stroke="#333" stroke-width="0.8"/>
<line x1="603.8" y1="424.4" x2="610.2" y2="424.4" stroke="#333" stroke-width="0.8"/>
<line x1="603.8" y1="429.6" x2="610.2" y2="429.6" stroke="#333" stroke-width="0.8"/>
<path d="M607.0,422.6 L609.0,426.1 L605.0,426.1 Z" fill="#7A1E8C"/>
<path d="M607.0,426.6 L609.0,430.1 L605.0,430.1 Z" fill="#7A1E8C"/>
<path d="M605.5,427.8 L607.5,431.3 L603.5,431.3 Z" fill="#7A1E8C"/>
<path d="M608.5,427.8 L610.5,431.3 L606.5,431.3 Z" fill="#7A1E8C"/>
<line x1="624.8" y1="393.2" x2="624.8" y2="389.6" stroke="#222" stroke-width="0.8"/>
<line x1="622.0" y1="389.6" x2="627.5999999999999" y2="389.6" stroke="#222" stroke-width="0.8"/>
<line x1="622.0" y1="393.2" x2="627.5999999999999" y2="393.2" stroke="#222" stroke-width="0.8"/>
<rect x="623.5" y="388.2" width="2.6" height="6.5" rx="1.3" fill="#F2909C"/>
<line x1="643.7" y1="435.5" x2="643.7" y2="431.0" stroke="#333" stroke-width="0.8"/>
<line x1="640.5" y1="431.0" x2="646.9000000000001" y2="431.0" stroke="#333" stroke-width="0.8"/>
<line x1="640.5" y1="435.5" x2="646.9000000000001" y2="435.5" stroke="#333" stroke-width="0.8"/>
<path d="M643.7,429.40000000000003 L645.7,432.90000000000003 L641.7,432.90000000000003 Z" fill="#7A1E8C"/>
<path d="M643.7,432.8 L645.7,436.3 L641.7,436.3 Z" fill="#7A1E8C"/>
<path d="M642.2,434.0 L644.2,437.5 L640.2,437.5 Z" fill="#7A1E8C"/>
<path d="M645.2,434.0 L647.2,437.5 L643.2,437.5 Z" fill="#7A1E8C"/>
<text x="595.0" y="369.4" font-size="9.3" fill="#111" text-anchor="middle" font-weight="normal" font-style="italic" >HMLα1</text>
<text x="636.6" y="369.4" font-size="9.3" fill="#111" text-anchor="middle" font-weight="normal" font-style="italic" >HMLα2</text>
<line x1="572.0999999999999" y1="358.3" x2="574.3" y2="358.3" stroke="#222" stroke-width="0.8"/>
<text x="572.2" y="361.9" font-size="10.2" fill="#111" text-anchor="end" font-weight="normal" font-style="normal" >4</text>
<line x1="572.0999999999999" y1="374.4" x2="574.3" y2="374.4" stroke="#222" stroke-width="0.8"/>
<text x="572.2" y="378.0" font-size="10.2" fill="#111" text-anchor="end" font-weight="normal" font-style="normal" >2</text>
<line x1="572.0999999999999" y1="390.5" x2="574.3" y2="390.5" stroke="#222" stroke-width="0.8"/>
<text x="572.2" y="394.1" font-size="10.2" fill="#111" text-anchor="end" font-weight="normal" font-style="normal" >0</text>
<line x1="572.0999999999999" y1="406.6" x2="574.3" y2="406.6" stroke="#222" stroke-width="0.8"/>
<text x="572.2" y="410.2" font-size="10.2" fill="#111" text-anchor="end" font-weight="normal" font-style="normal" >-2</text>
<line x1="572.0999999999999" y1="422.7" x2="574.3" y2="422.7" stroke="#222" stroke-width="0.8"/>
<text x="572.2" y="426.3" font-size="10.2" fill="#111" text-anchor="end" font-weight="normal" font-style="normal" >-4</text>
<line x1="572.0999999999999" y1="438.8" x2="574.3" y2="438.8" stroke="#222" stroke-width="0.8"/>
<text x="572.2" y="442.4" font-size="10.2" fill="#111" text-anchor="end" font-weight="normal" font-style="normal" >-6</text>
<line x1="588.5" y1="440.0" x2="588.5" y2="442.0" stroke="#222" stroke-width="0.8"/>
<text x="0" y="0" font-size="8.6" fill="#111" text-anchor="end" font-weight="normal" font-style="normal" transform="translate(590.7 445.0) rotate(-45)">KS-R3</text>
<line x1="607.0" y1="440.0" x2="607.0" y2="442.0" stroke="#222" stroke-width="0.8"/>
<text x="0" y="0" font-size="8.6" fill="#111" text-anchor="end" font-weight="normal" font-style="normal" transform="translate(609.2 445.0) rotate(-45)">Sc-R3</text>
<line x1="624.8" y1="440.0" x2="624.8" y2="442.0" stroke="#222" stroke-width="0.8"/>
<text x="0" y="0" font-size="8.6" fill="#111" text-anchor="end" font-weight="normal" font-style="normal" transform="translate(627.0 445.0) rotate(-45)">KS-R3</text>
<line x1="643.7" y1="440.0" x2="643.7" y2="442.0" stroke="#222" stroke-width="0.8"/>
<text x="0" y="0" font-size="8.6" fill="#111" text-anchor="end" font-weight="normal" font-style="normal" transform="translate(645.9 445.0) rotate(-45)">Sc-R3</text>
<text x="0" y="0" font-size="8.8" fill="#000" text-anchor="middle" font-weight="normal" font-style="normal" transform="translate(554.8 403.2) rotate(-90)">log2 (Relative mRNA level)</text>
<ellipse cx="156.2" cy="507.7" rx="29.2" ry="17.8" fill="#F6E3E4"/>
<ellipse cx="95.2" cy="548.1" rx="77.2" ry="48.4" fill="#F6E3E4"/>
<line x1="100.7" y1="529.9" x2="138.7" y2="529.9" stroke="#E47CBA" stroke-width="2.0"/>
<circle cx="124.6" cy="529.9" r="1.3" fill="#EC2227"/>
<line x1="87.0" y1="536.9" x2="125.5" y2="536.9" stroke="#E47CBA" stroke-width="2.0"/>
<circle cx="101.6" cy="536.9" r="1.3" fill="#EC2227"/>
<line x1="97.8" y1="543.3" x2="136.6" y2="543.3" stroke="#E47CBA" stroke-width="2.0"/>
<circle cx="122.6" cy="543.3" r="1.3" fill="#EC2227"/>
<line x1="122.0" y1="550.3" x2="146.0" y2="550.3" stroke="#E47CBA" stroke-width="2.0"/>
<circle cx="135.8" cy="550.3" r="1.3" fill="#EC2227"/>
<line x1="97.2" y1="557.0" x2="119.7" y2="557.0" stroke="#E47CBA" stroke-width="2.0"/>
<circle cx="111.3" cy="557.0" r="1.3" fill="#EC2227"/>
<line x1="105.7" y1="564.3" x2="142.5" y2="564.3" stroke="#E47CBA" stroke-width="2.0"/>
<circle cx="130.4" cy="564.3" r="1.3" fill="#EC2227"/>
<line x1="105.7" y1="576.0" x2="137.2" y2="576.0" stroke="#E47CBA" stroke-width="2.0"/>
<circle cx="125.2" cy="576.0" r="1.3" fill="#EC2227"/>
<line x1="95.0" y1="583.3" x2="136.6" y2="583.3" stroke="#E47CBA" stroke-width="2.0"/>
<circle cx="119.7" cy="583.3" r="1.3" fill="#EC2227"/>
<circle cx="95.8" cy="509.4" r="4.5" fill="#EC2227"/>
<circle cx="99.9" cy="519.0" r="4.5" fill="#EC2227"/>
<circle cx="111.8" cy="518.2" r="4.5" fill="#EC2227"/>
<text x="116.8" y="515.4" font-size="8.8" fill="#EC2227" text-anchor="start" font-weight="normal" font-style="normal" ><tspan font-style="italic">Km trans</tspan>-factors</text>
<text x="51.8" y="579.8" font-size="20.3" fill="#000" text-anchor="start" font-weight="normal" font-style="italic" >Km</text>
<path d="M81.8,516 C61,526 61,546 84.0,556.5" fill="none" stroke="#A3317D" stroke-width="1.25" stroke-dasharray="2.8,1.6"/>
<polyline points="80.6,558.0 85.2,557.2 82.6,553.4" fill="none" stroke="#A3317D" stroke-width="1.25"/>
<polyline points="126,564.3 126,557.2 135.5,557.2" fill="none" stroke="#EC2227" stroke-width="1.6"/>
<polyline points="132.8,554.6 135.9,557.2 132.8,559.8" fill="none" stroke="#EC2227" stroke-width="1.6"/>
<polyline points="141.60,556.40 142.57,555.48 143.55,554.70 144.53,554.18 145.50,554.00 146.47,554.18 147.45,554.70 148.42,555.48 149.40,556.40 150.38,557.32 151.35,558.10 152.32,558.62 153.30,558.80 154.28,558.62 155.25,558.10 156.22,557.32 157.20,556.40 158.18,555.48 159.15,554.70 160.12,554.18 161.10,554.00 162.07,554.18 163.05,554.70 164.03,555.48 165.00,556.40" fill="none" stroke="#EC2227" stroke-width="1.6"/>
<polyline points="141.60,561.40 142.57,560.48 143.55,559.70 144.53,559.18 145.50,559.00 146.47,559.18 147.45,559.70 148.42,560.48 149.40,561.40 150.38,562.32 151.35,563.10 152.32,563.62 153.30,563.80 154.28,563.62 155.25,563.10 156.22,562.32 157.20,561.40 158.18,560.48 159.15,559.70 160.12,559.18 161.10,559.00 162.07,559.18 163.05,559.70 164.03,560.48 165.00,561.40" fill="none" stroke="#EC2227" stroke-width="1.6"/>
<ellipse cx="348.2" cy="507.2" rx="28.4" ry="16.7" fill="#fff" stroke="#82309A" stroke-width="1.5"/>
<ellipse cx="285.8" cy="547.6" rx="77.5" ry="48.7" fill="#fff" stroke="#82309A" stroke-width="1.5"/>
<ellipse cx="348.2" cy="507.2" rx="27.65" ry="15.95" fill="#fff"/>
<ellipse cx="240.3" cy="532.8" rx="17.6" ry="10.0" transform="rotate(-25 240.3 532.8)" fill="none" stroke="#5C60B4" stroke-width="1.6"/>
<line x1="291.4" y1="529.9" x2="329.9" y2="529.9" stroke="#E47CBA" stroke-width="2.0"/>
<circle cx="315.8" cy="529.9" r="1.3" fill="#EC2227"/>
<line x1="278.2" y1="536.9" x2="316.2" y2="536.9" stroke="#E47CBA" stroke-width="2.0"/>
<circle cx="292.5" cy="536.9" r="1.3" fill="#EC2227"/>
<line x1="289.0" y1="543.3" x2="327.8" y2="543.3" stroke="#E47CBA" stroke-width="2.0"/>
<circle cx="313.5" cy="543.3" r="1.3" fill="#EC2227"/>
<line x1="312.7" y1="550.3" x2="338.0" y2="550.3" stroke="#E47CBA" stroke-width="2.0"/>
<circle cx="326.3" cy="550.3" r="1.3" fill="#EC2227"/>
<line x1="288.4" y1="557.0" x2="311.8" y2="557.0" stroke="#E47CBA" stroke-width="2.0"/>
<circle cx="302.0" cy="557.0" r="1.3" fill="#EC2227"/>
<line x1="296.6" y1="564.3" x2="332.8" y2="564.3" stroke="#E47CBA" stroke-width="2.0"/>
<circle cx="321.2" cy="564.3" r="1.3" fill="#EC2227"/>
<line x1="296.6" y1="575.7" x2="327.8" y2="575.7" stroke="#E47CBA" stroke-width="2.0"/>
<circle cx="315.5" cy="575.7" r="1.3" fill="#EC2227"/>
<line x1="286.0" y1="583.3" x2="327.8" y2="583.3" stroke="#E47CBA" stroke-width="2.0"/>
<circle cx="310.5" cy="583.3" r="1.3" fill="#EC2227"/>
<circle cx="286.4" cy="508.8" r="4.5" fill="#EC2227"/>
<circle cx="289.9" cy="518.2" r="4.5" fill="#EC2227"/>
<circle cx="302.4" cy="517.6" r="4.5" fill="#EC2227"/>
<text x="307.4" y="515.4" font-size="8.8" fill="#EC2227" text-anchor="start" font-weight="normal" font-style="normal" ><tspan font-style="italic">Km trans</tspan>-factors</text>
<text x="216.0" y="556.3" font-size="8.8" fill="#3B3D9B" text-anchor="start" font-weight="normal" font-style="italic" >Sc trans-</text>
<text x="220.7" y="567.2" font-size="8.8" fill="#3B3D9B" text-anchor="start" font-weight="normal" font-style="normal" >factors</text>
<circle cx="237.3" cy="573.0" r="4.4" fill="#2E3192"/>
<line x1="247.0" y1="570.7" x2="278.72" y2="564.20" stroke="#3DB5E3" stroke-width="1.1" stroke-dasharray="2.8,1.6"/>
<polyline points="277.31,566.12 279.7,564.0 276.66,562.99" fill="none" stroke="#3DB5E3" stroke-width="1.1"/>
<text x="256.0" y="588.5" font-size="19.5" fill="#000" text-anchor="start" font-weight="normal" font-style="normal" >KS</text>
<path d="M273.2,513.8 C256,522 255,545 279.0,555.0" fill="none" stroke="#A3317D" stroke-width="1.25" stroke-dasharray="2.8,1.6"/>
<polyline points="275.6,556.6 280.0,555.6 277.2,551.8" fill="none" stroke="#A3317D" stroke-width="1.25"/>
<polyline points="317,564.3 317,557.2 326.8,557.2" fill="none" stroke="#EC2227" stroke-width="1.6"/>
<polyline points="324.1,554.6 327.2,557.2 324.1,559.8" fill="none" stroke="#EC2227" stroke-width="1.6"/>
<polyline points="333.70,557.40 334.61,556.73 335.52,556.10 336.44,555.56 337.35,555.15 338.26,554.89 339.18,554.80 340.09,554.89 341.00,555.15 341.91,555.56 342.82,556.10 343.74,556.73 344.65,557.40 345.56,558.07 346.48,558.70 347.39,559.24 348.30,559.65 349.21,559.91 350.12,560.00 351.04,559.91 351.95,559.65 352.86,559.24 353.78,558.70 354.69,558.07 355.60,557.40" fill="none" stroke="#EC2227" stroke-width="1.6"/>
<rect x="456.2" y="475.1" width="122.80000000000001" height="139.60000000000002" fill="#fff" stroke="#333" stroke-width="0.9"/>
<rect x="458.8" y="488.0" width="18.0" height="57.9" fill="#E98A2F"/>
<rect x="458.8" y="545.9" width="18.0" height="41.0" fill="#662D93"/>
<rect x="479.1" y="537.5" width="17.3" height="8.4" fill="#E98A2F"/>
<rect x="479.1" y="545.9" width="17.3" height="1.1" fill="#662D93"/>
<rect x="498.9" y="532.3" width="17.5" height="13.6" fill="#E98A2F"/>
<rect x="498.9" y="545.9" width="17.5" height="7.0" fill="#662D93"/>
<rect x="518.4" y="523.1" width="18.0" height="22.8" fill="#E98A2F"/>
<rect x="518.4" y="545.9" width="18.0" height="62.4" fill="#662D93"/>
<rect x="538.4" y="544.5" width="17.6" height="1.4" fill="#E98A2F"/>
<rect x="538.4" y="545.9" width="17.6" height="1.6" fill="#662D93"/>
<rect x="558.2" y="544.1" width="17.8" height="1.8" fill="#E98A2F"/>
<rect x="558.2" y="545.9" width="17.8" height="1.1" fill="#662D93"/>
<text x="467.0" y="487.2" font-size="12.6" fill="#111" text-anchor="middle" font-weight="normal" font-style="normal" >Y</text>
<text x="487.6" y="537.2" font-size="12.6" fill="#111" text-anchor="middle" font-weight="normal" font-style="normal" >T</text>
<text x="507.6" y="531.6" font-size="12.6" fill="#111" text-anchor="middle" font-weight="normal" font-style="normal" >N</text>
<text x="527.7" y="522.3" font-size="12.6" fill="#111" text-anchor="middle" font-weight="normal" font-style="normal" >Y</text>
<text x="546.5" y="544.2" font-size="12.6" fill="#111" text-anchor="middle" font-weight="normal" font-style="normal" >T</text>
<text x="565.7" y="544.2" font-size="12.6" fill="#111" text-anchor="middle" font-weight="normal" font-style="normal" >N</text>
<line x1="454.0" y1="503.3" x2="456.2" y2="503.3" stroke="#333" stroke-width="0.8"/>
<text x="453.6" y="507.2" font-size="10.8" fill="#4D4D4D" text-anchor="end" font-weight="normal" font-style="normal" >400</text>
<line x1="454.0" y1="524.6" x2="456.2" y2="524.6" stroke="#333" stroke-width="0.8"/>
<text x="453.6" y="528.5" font-size="10.8" fill="#4D4D4D" text-anchor="end" font-weight="normal" font-style="normal" >200</text>
<line x1="454.0" y1="545.9" x2="456.2" y2="545.9" stroke="#333" stroke-width="0.8"/>
<text x="453.6" y="549.8" font-size="10.8" fill="#4D4D4D" text-anchor="end" font-weight="normal" font-style="normal" >0</text>
<line x1="454.0" y1="567.1" x2="456.2" y2="567.1" stroke="#333" stroke-width="0.8"/>
<text x="453.6" y="571.0" font-size="10.8" fill="#4D4D4D" text-anchor="end" font-weight="normal" font-style="normal" >200</text>
<line x1="454.0" y1="588.4" x2="456.2" y2="588.4" stroke="#333" stroke-width="0.8"/>
<text x="453.6" y="592.3" font-size="10.8" fill="#4D4D4D" text-anchor="end" font-weight="normal" font-style="normal" >400</text>
<line x1="454.0" y1="609.5" x2="456.2" y2="609.5" stroke="#333" stroke-width="0.8"/>
<text x="453.6" y="613.4" font-size="10.8" fill="#4D4D4D" text-anchor="end" font-weight="normal" font-style="normal" >600</text>
<text x="489.6" y="625.5" font-size="10.8" fill="#111" text-anchor="middle" font-weight="normal" font-style="normal" >KS-R1</text>
<text x="546.5" y="625.5" font-size="10.8" fill="#111" text-anchor="middle" font-weight="normal" font-style="normal" >KS-R3</text>
<text x="0" y="0" font-size="13.2" fill="#111" text-anchor="middle" font-weight="normal" font-style="normal" transform="translate(428.0 556.2) rotate(-90)"># of DEG (KS vs. <tspan font-style="italic">Km</tspan>)</text>
<rect x="585.2" y="537.0" width="11.6" height="11.6" fill="#E98A2F"/>
<rect x="585.2" y="550.3" width="11.6" height="11.7" fill="#662D93"/>
<text x="601.6" y="546.1" font-size="9.2" fill="#222" text-anchor="start" font-weight="normal" font-style="normal" >KS &gt; <tspan font-style="italic">Km</tspan></text>
<text x="601.6" y="559.0" font-size="9.2" fill="#222" text-anchor="start" font-weight="normal" font-style="normal" >KS &lt; <tspan font-style="italic">Km</tspan></text>
</svg>
</body></html>
